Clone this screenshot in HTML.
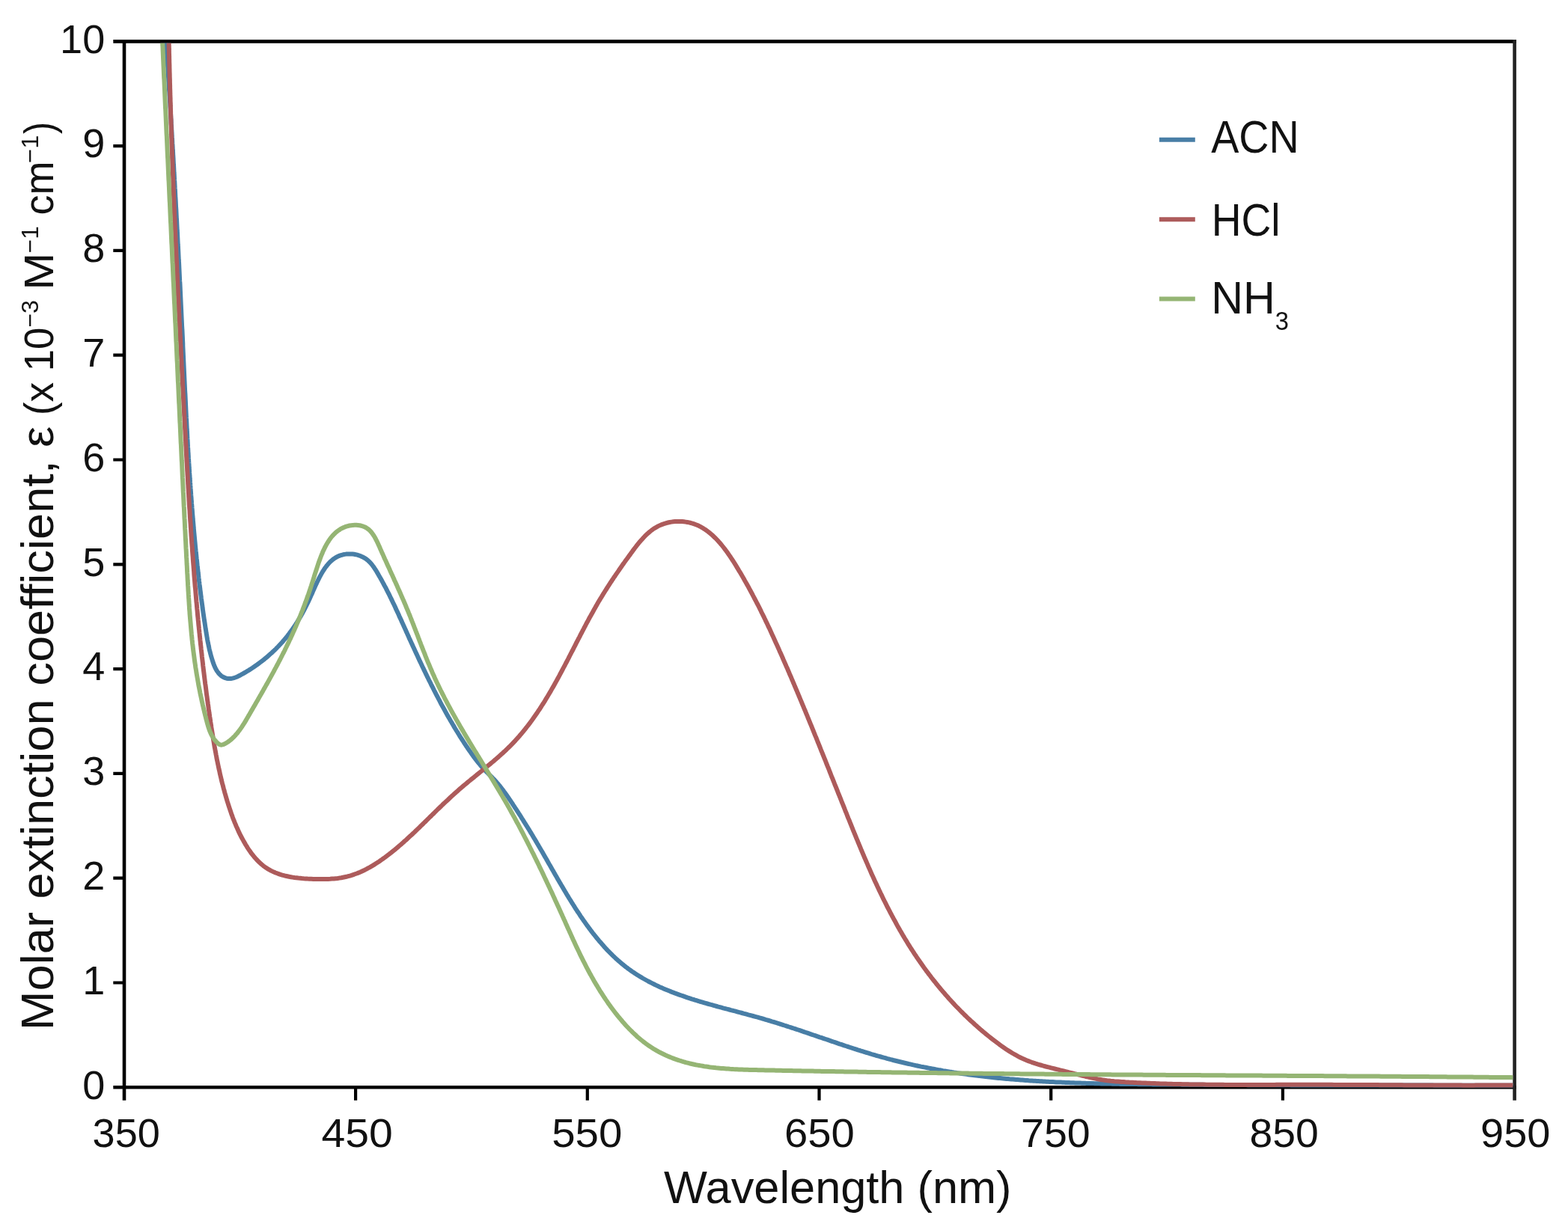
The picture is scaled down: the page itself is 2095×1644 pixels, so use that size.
<!DOCTYPE html>
<html><head><meta charset="utf-8"><title>Molar extinction coefficient</title>
<style>html,body{margin:0;padding:0;background:#fff}svg{display:block}</style></head>
<body>
<svg xmlns="http://www.w3.org/2000/svg" width="2095" height="1644" viewBox="0 0 2095 1644">
<rect width="2095" height="1644" fill="#fff"/>
<g stroke="#000" stroke-width="4.6" fill="none" stroke-linecap="butt">
<path d="M151.3,55.4 H2025.8999999999999"/>
<path d="M166.0,53.1 V1470.7"/>
<path d="M151.3,1453.3 H2025.8999999999999"/>
<path d="M2023.6,53.1 V1470.7" stroke="#222"/>
<path d="M151.3,1313.5 H166.0 M151.3,1173.7 H166.0 M151.3,1033.9 H166.0 M151.3,894.1 H166.0 M151.3,754.3 H166.0 M151.3,614.5 H166.0 M151.3,474.7 H166.0 M151.3,334.9 H166.0 M151.3,195.1 H166.0 M475.1,1453.3 V1470.7 M784.8,1453.3 V1470.7 M1094.5,1453.3 V1470.7 M1404.2,1453.3 V1470.7 M1713.9,1453.3 V1470.7" stroke-width="4.2"/>
</g>
<clipPath id="c"><rect x="168.3" y="57.699999999999996" width="1853.0" height="1399.6"/></clipPath>
<g clip-path="url(#c)" fill="none" stroke-width="6.0" stroke-linejoin="round" stroke-linecap="round">
<path d="M221.5,47.9 L221.7,50.0 L221.8,52.2 L221.9,54.3 L222.1,56.5 L222.2,58.6 L222.4,60.8 L222.5,63.0 L222.6,65.1 L222.8,67.3 L222.9,69.4 L223.0,71.6 L223.2,73.7 L223.3,75.9 L223.4,78.0 L223.6,80.2 L223.7,82.3 L223.9,84.5 L224.0,86.6 L224.1,88.8 L224.3,90.9 L224.4,93.0 L224.5,95.2 L224.7,97.3 L224.8,99.5 L224.9,101.6 L225.1,103.8 L225.2,105.9 L225.3,108.1 L225.5,110.2 L225.6,112.4 L225.7,114.5 L225.9,116.7 L226.0,118.8 L226.1,121.0 L226.3,123.1 L226.4,125.3 L226.5,127.4 L226.7,129.5 L226.8,131.7 L226.9,133.8 L227.0,136.0 L227.2,138.1 L227.3,140.3 L227.4,142.4 L227.6,144.6 L227.7,146.7 L227.8,148.9 L227.9,151.0 L228.1,153.1 L228.2,155.3 L228.3,157.4 L228.5,159.6 L228.6,161.7 L228.7,163.9 L228.8,166.0 L229.0,168.2 L229.1,170.3 L229.2,172.4 L229.3,174.6 L229.5,176.7 L229.6,178.9 L229.7,181.0 L229.8,183.2 L230.0,185.3 L230.1,187.4 L230.2,189.6 L230.3,191.7 L230.5,193.9 L230.6,196.0 L230.7,198.2 L230.8,200.3 L231.0,202.4 L231.1,204.6 L231.2,206.7 L231.3,208.9 L231.5,211.0 L231.6,213.2 L231.7,215.3 L231.8,217.4 L231.9,219.6 L232.1,221.7 L232.2,223.9 L232.3,226.0 L232.4,228.1 L232.5,230.3 L232.7,232.4 L232.8,234.6 L232.9,236.7 L233.0,238.9 L233.1,241.0 L233.3,243.1 L233.4,245.3 L233.5,247.4 L233.6,249.6 L233.7,251.7 L233.9,253.8 L234.0,256.0 L234.1,258.1 L234.2,260.3 L234.3,262.4 L234.4,264.6 L234.6,266.7 L234.7,268.8 L234.8,271.0 L234.9,273.1 L235.0,275.3 L235.1,277.4 L235.3,279.5 L235.4,281.7 L235.5,283.8 L235.6,286.0 L235.7,288.1 L235.8,290.2 L235.9,292.4 L236.1,294.5 L236.2,296.7 L236.3,298.8 L236.4,301.0 L236.5,303.1 L236.6,305.2 L236.7,307.4 L236.9,309.5 L237.0,311.7 L237.1,313.8 L237.2,315.9 L237.3,318.1 L237.4,320.2 L237.5,322.4 L237.6,324.5 L237.7,326.6 L237.9,328.8 L238.0,330.9 L238.1,333.1 L238.2,335.2 L238.3,337.4 L238.4,339.5 L238.5,341.6 L238.6,343.8 L238.7,345.9 L238.8,348.1 L239.0,350.2 L239.1,352.4 L239.2,354.5 L239.3,356.6 L239.4,358.8 L239.5,360.9 L239.6,363.1 L239.7,365.2 L239.8,367.4 L239.9,369.5 L240.0,371.6 L240.1,373.8 L240.2,375.9 L240.4,378.1 L240.5,380.2 L240.6,382.4 L240.7,384.5 L240.8,386.6 L240.9,388.8 L241.0,390.9 L241.1,393.1 L241.2,395.2 L241.3,397.4 L241.4,399.5 L241.5,401.7 L241.6,403.8 L241.7,405.9 L241.8,408.1 L241.9,410.2 L242.0,412.4 L242.1,414.5 L242.2,416.7 L242.3,418.8 L242.4,421.0 L242.5,423.1 L242.6,425.3 L242.7,427.4 L242.8,429.5 L242.9,431.7 L243.0,433.8 L243.1,436.0 L243.2,438.1 L243.4,440.3 L243.5,442.4 L243.6,444.6 L243.7,446.7 L243.8,448.9 L243.9,451.0 L244.0,453.2 L244.1,455.3 L244.2,457.5 L244.3,459.6 L244.3,461.8 L244.4,463.9 L244.5,466.1 L244.6,468.2 L244.7,470.4 L244.8,472.5 L244.9,474.7 L245.0,476.8 L245.1,479.0 L245.2,481.1 L245.3,483.3 L245.4,485.4 L245.5,487.6 L245.6,489.7 L245.7,491.9 L245.8,494.0 L245.9,496.2 L246.0,498.3 L246.1,500.5 L246.2,502.6 L246.3,504.8 L246.4,506.9 L246.5,509.1 L246.6,511.2 L246.7,513.4 L246.8,515.5 L246.9,517.7 L247.0,519.8 L247.1,522.0 L247.2,524.1 L247.4,526.3 L247.5,528.4 L247.6,530.6 L247.7,532.7 L247.8,534.9 L247.9,537.0 L248.0,539.2 L248.1,541.3 L248.2,543.5 L248.3,545.6 L248.4,547.8 L248.5,549.9 L248.6,552.1 L248.7,554.2 L248.8,556.4 L248.9,558.5 L249.1,560.7 L249.2,562.8 L249.3,565.0 L249.4,567.1 L249.5,569.3 L249.6,571.4 L249.7,573.6 L249.9,575.7 L250.0,577.9 L250.1,580.0 L250.2,582.2 L250.3,584.3 L250.4,586.5 L250.6,588.6 L250.7,590.8 L250.8,592.9 L250.9,595.1 L251.0,597.2 L251.2,599.4 L251.3,601.5 L251.4,603.7 L251.5,605.8 L251.7,607.9 L251.8,610.1 L251.9,612.2 L252.1,614.4 L252.2,616.5 L252.3,618.7 L252.5,620.8 L252.6,623.0 L252.7,625.1 L252.9,627.3 L253.0,629.4 L253.1,631.5 L253.3,633.7 L253.4,635.8 L253.6,638.0 L253.7,640.1 L253.9,642.3 L254.0,644.4 L254.2,646.6 L254.3,648.7 L254.5,650.8 L254.6,653.0 L254.8,655.1 L254.9,657.3 L255.1,659.4 L255.2,661.5 L255.4,663.7 L255.5,665.8 L255.7,668.0 L255.9,670.1 L256.0,672.2 L256.2,674.4 L256.4,676.5 L256.5,678.7 L256.7,680.8 L256.9,682.9 L257.0,685.1 L257.2,687.2 L257.4,689.4 L257.6,691.5 L257.7,693.6 L257.9,695.8 L258.1,697.9 L258.3,700.0 L258.5,702.2 L258.6,704.3 L258.8,706.4 L259.0,708.6 L259.2,710.7 L259.4,712.8 L259.6,715.0 L259.8,717.1 L260.0,719.2 L260.2,721.4 L260.4,723.5 L260.6,725.6 L260.8,727.7 L261.0,729.9 L261.2,732.0 L261.4,734.1 L261.6,736.3 L261.9,738.4 L262.1,740.5 L262.3,742.6 L262.5,744.8 L262.7,746.9 L263.0,749.0 L263.2,751.1 L263.4,753.3 L263.6,755.4 L263.9,757.5 L264.1,759.6 L264.3,761.7 L264.6,763.9 L264.8,766.0 L265.1,768.1 L265.3,770.2 L265.5,772.3 L265.8,774.5 L266.0,776.6 L266.3,778.7 L266.5,780.8 L266.8,782.9 L267.1,785.0 L267.3,787.2 L267.6,789.3 L267.9,791.4 L268.1,793.5 L268.4,795.6 L268.7,797.7 L268.9,799.8 L269.2,801.9 L269.5,804.0 L269.8,806.2 L270.1,808.3 L270.4,810.4 L270.6,812.5 L270.9,814.6 L271.2,816.7 L271.5,818.8 L271.8,820.9 L272.1,823.0 L272.4,825.1 L272.7,827.2 L273.0,829.3 L273.4,831.4 L273.7,833.5 L274.0,835.6 L274.3,837.7 L274.6,839.8 L275.0,841.9 L275.3,844.0 L275.6,846.1 L276.0,848.2 L276.3,850.3 L276.7,852.4 L277.0,854.5 L277.4,856.6 L277.8,858.8 L278.3,860.9 L278.7,863.0 L279.2,865.2 L279.6,867.3 L280.1,869.5 L280.7,871.6 L281.2,873.8 L281.8,876.0 L282.4,878.2 L283.1,880.4 L283.8,882.7 L284.5,884.9 L285.3,887.1 L286.1,889.3 L287.0,891.4 L288.0,893.5 L289.1,895.4 L290.2,897.3 L291.5,899.0 L292.8,900.6 L294.3,902.1 L295.8,903.4 L297.5,904.5 L299.2,905.4 L301.0,906.1 L302.8,906.7 L304.7,907.0 L306.6,907.1 L308.5,907.0 L310.5,906.6 L312.5,906.1 L314.4,905.5 L316.4,904.7 L318.4,903.8 L320.4,902.8 L322.4,901.7 L324.3,900.6 L326.3,899.5 L328.2,898.4 L330.1,897.2 L332.0,896.1 L333.9,894.9 L335.7,893.7 L337.6,892.5 L339.4,891.3 L341.2,890.0 L343.0,888.8 L344.7,887.5 L346.5,886.2 L348.2,884.9 L349.9,883.6 L351.6,882.3 L353.3,881.0 L354.9,879.6 L356.5,878.3 L358.2,876.9 L359.7,875.5 L361.3,874.1 L362.9,872.7 L364.4,871.3 L365.9,869.9 L367.4,868.5 L368.9,867.0 L370.3,865.5 L371.8,864.0 L373.2,862.5 L374.6,861.0 L376.0,859.5 L377.4,858.0 L378.7,856.4 L380.0,854.9 L381.4,853.3 L382.7,851.7 L384.0,850.1 L385.2,848.4 L386.5,846.8 L387.7,845.1 L389.0,843.4 L390.2,841.8 L391.4,840.0 L392.6,838.3 L393.7,836.6 L394.9,834.8 L396.1,833.0 L397.2,831.2 L398.3,829.4 L399.4,827.6 L400.5,825.7 L401.6,823.9 L402.7,822.0 L403.8,820.1 L404.8,818.1 L405.9,816.2 L406.9,814.2 L407.9,812.2 L408.9,810.2 L409.9,808.2 L410.9,806.2 L411.9,804.1 L412.9,802.0 L413.9,799.9 L414.8,797.8 L415.8,795.6 L416.8,793.5 L417.7,791.3 L418.7,789.1 L419.6,787.0 L420.6,784.8 L421.6,782.6 L422.6,780.5 L423.5,778.4 L424.6,776.3 L425.6,774.2 L426.6,772.1 L427.7,770.1 L428.8,768.1 L429.9,766.1 L431.0,764.2 L432.2,762.3 L433.4,760.5 L434.6,758.7 L435.9,757.0 L437.2,755.4 L438.5,753.8 L439.9,752.3 L441.3,750.8 L442.8,749.5 L444.3,748.2 L445.9,747.0 L447.5,745.9 L449.2,744.9 L450.9,743.9 L452.7,743.1 L454.6,742.4 L456.5,741.8 L458.4,741.3 L460.5,740.9 L462.5,740.6 L464.6,740.4 L466.7,740.4 L468.9,740.4 L471.0,740.6 L473.1,740.8 L475.2,741.2 L477.3,741.7 L479.4,742.3 L481.4,743.0 L483.4,743.9 L485.3,744.8 L487.2,745.9 L489.0,747.0 L490.7,748.3 L492.3,749.7 L493.9,751.2 L495.3,752.8 L496.8,754.5 L498.1,756.2 L499.4,758.0 L500.6,759.8 L501.9,761.7 L503.0,763.6 L504.2,765.6 L505.3,767.5 L506.4,769.4 L507.5,771.4 L508.6,773.3 L509.7,775.2 L510.7,777.1 L511.8,779.1 L512.8,781.0 L513.8,782.9 L514.9,784.8 L515.9,786.7 L516.8,788.7 L517.8,790.6 L518.8,792.5 L519.8,794.4 L520.7,796.3 L521.6,798.2 L522.6,800.2 L523.5,802.1 L524.4,804.0 L525.3,805.9 L526.3,807.8 L527.2,809.7 L528.1,811.6 L528.9,813.6 L529.8,815.5 L530.7,817.4 L531.6,819.3 L532.5,821.2 L533.3,823.2 L534.2,825.1 L535.1,827.0 L536.0,828.9 L536.8,830.9 L537.7,832.8 L538.6,834.7 L539.4,836.6 L540.3,838.6 L541.2,840.5 L542.1,842.4 L542.9,844.4 L543.8,846.3 L544.7,848.3 L545.6,850.2 L546.4,852.2 L547.3,854.1 L548.2,856.1 L549.1,858.0 L550.0,860.0 L550.9,861.9 L551.8,863.9 L552.7,865.8 L553.6,867.8 L554.5,869.7 L555.4,871.7 L556.3,873.6 L557.2,875.6 L558.1,877.5 L559.0,879.5 L559.9,881.4 L560.8,883.4 L561.8,885.4 L562.7,887.3 L563.6,889.3 L564.5,891.2 L565.5,893.2 L566.4,895.1 L567.4,897.1 L568.3,899.0 L569.2,901.0 L570.2,902.9 L571.1,904.9 L572.1,906.8 L573.0,908.8 L574.0,910.7 L575.0,912.6 L575.9,914.6 L576.9,916.5 L577.9,918.4 L578.9,920.4 L579.8,922.3 L580.8,924.2 L581.8,926.2 L582.8,928.1 L583.8,930.0 L584.8,931.9 L585.8,933.8 L586.8,935.7 L587.8,937.6 L588.8,939.6 L589.8,941.5 L590.9,943.4 L591.9,945.2 L592.9,947.1 L594.0,949.0 L595.0,950.9 L596.0,952.8 L597.1,954.7 L598.1,956.5 L599.2,958.4 L600.3,960.3 L601.3,962.1 L602.4,964.0 L603.5,965.8 L604.6,967.7 L605.7,969.5 L606.7,971.4 L607.8,973.2 L608.9,975.0 L610.0,976.8 L611.2,978.6 L612.3,980.5 L613.4,982.3 L614.5,984.1 L615.6,985.8 L616.8,987.6 L617.9,989.4 L619.1,991.2 L620.2,993.0 L621.4,994.7 L622.5,996.5 L623.7,998.2 L624.9,1000.0 L626.1,1001.7 L627.3,1003.4 L628.5,1005.1 L629.7,1006.9 L630.9,1008.6 L632.1,1010.2 L633.3,1011.9 L634.6,1013.6 L635.8,1015.2 L637.1,1016.9 L638.4,1018.5 L639.7,1020.1 L641.0,1021.7 L642.3,1023.3 L643.7,1024.9 L645.1,1026.4 L646.4,1027.9 L647.9,1029.4 L649.3,1030.9 L650.7,1032.4 L652.2,1033.8 L653.7,1035.3 L655.1,1036.8 L656.6,1038.2 L658.1,1039.7 L659.5,1041.2 L661.0,1042.7 L662.4,1044.3 L663.8,1045.9 L665.2,1047.5 L666.6,1049.2 L668.0,1050.8 L669.3,1052.5 L670.6,1054.3 L672.0,1056.0 L673.3,1057.8 L674.6,1059.5 L675.8,1061.3 L677.1,1063.1 L678.4,1064.9 L679.6,1066.7 L680.8,1068.5 L682.1,1070.3 L683.3,1072.1 L684.5,1073.9 L685.7,1075.8 L686.9,1077.6 L688.0,1079.3 L689.2,1081.1 L690.4,1082.9 L691.5,1084.7 L692.7,1086.5 L693.8,1088.3 L695.0,1090.0 L696.1,1091.8 L697.2,1093.6 L698.3,1095.3 L699.4,1097.1 L700.5,1098.9 L701.6,1100.6 L702.7,1102.4 L703.8,1104.2 L704.9,1105.9 L706.0,1107.7 L707.1,1109.4 L708.2,1111.2 L709.2,1113.0 L710.3,1114.7 L711.4,1116.5 L712.4,1118.3 L713.5,1120.1 L714.6,1121.8 L715.6,1123.6 L716.7,1125.4 L717.7,1127.2 L718.8,1129.0 L719.8,1130.8 L720.9,1132.6 L721.9,1134.4 L723.0,1136.2 L724.1,1138.0 L725.1,1139.8 L726.2,1141.7 L727.2,1143.5 L728.3,1145.4 L729.4,1147.2 L730.4,1149.1 L731.5,1150.9 L732.5,1152.8 L733.6,1154.7 L734.7,1156.5 L735.8,1158.4 L736.8,1160.3 L737.9,1162.2 L739.0,1164.1 L740.1,1166.0 L741.1,1167.8 L742.2,1169.7 L743.3,1171.6 L744.4,1173.5 L745.5,1175.4 L746.6,1177.3 L747.7,1179.2 L748.8,1181.1 L749.9,1183.0 L751.1,1184.9 L752.2,1186.8 L753.3,1188.7 L754.4,1190.6 L755.6,1192.5 L756.7,1194.4 L757.8,1196.3 L759.0,1198.2 L760.1,1200.1 L761.3,1202.0 L762.5,1203.9 L763.6,1205.7 L764.8,1207.6 L766.0,1209.5 L767.2,1211.4 L768.3,1213.2 L769.5,1215.1 L770.7,1216.9 L771.9,1218.8 L773.2,1220.6 L774.4,1222.4 L775.6,1224.3 L776.8,1226.1 L778.1,1227.9 L779.3,1229.7 L780.6,1231.5 L781.9,1233.3 L783.1,1235.1 L784.4,1236.9 L785.7,1238.6 L787.0,1240.4 L788.3,1242.1 L789.6,1243.9 L790.9,1245.6 L792.2,1247.3 L793.6,1249.0 L794.9,1250.7 L796.3,1252.4 L797.6,1254.1 L799.0,1255.7 L800.4,1257.4 L801.8,1259.0 L803.2,1260.6 L804.6,1262.2 L806.0,1263.8 L807.4,1265.4 L808.8,1267.0 L810.3,1268.6 L811.7,1270.1 L813.2,1271.6 L814.7,1273.1 L816.2,1274.6 L817.7,1276.1 L819.2,1277.6 L820.7,1279.0 L822.2,1280.5 L823.8,1281.9 L825.3,1283.3 L826.9,1284.7 L828.5,1286.0 L830.0,1287.4 L831.6,1288.7 L833.3,1290.0 L834.9,1291.3 L836.5,1292.6 L838.2,1293.8 L839.8,1295.1 L841.5,1296.3 L843.2,1297.5 L844.9,1298.7 L846.6,1299.8 L848.3,1301.0 L850.0,1302.1 L851.8,1303.2 L853.5,1304.3 L855.3,1305.4 L857.0,1306.4 L858.8,1307.5 L860.6,1308.5 L862.4,1309.5 L864.2,1310.5 L866.0,1311.5 L867.9,1312.5 L869.7,1313.4 L871.6,1314.4 L873.4,1315.3 L875.3,1316.2 L877.2,1317.1 L879.1,1318.0 L880.9,1318.9 L882.8,1319.7 L884.8,1320.6 L886.7,1321.4 L888.6,1322.2 L890.5,1323.0 L892.5,1323.8 L894.4,1324.6 L896.4,1325.4 L898.3,1326.2 L900.3,1326.9 L902.3,1327.7 L904.3,1328.4 L906.3,1329.1 L908.3,1329.8 L910.3,1330.5 L912.3,1331.2 L914.3,1331.9 L916.3,1332.6 L918.3,1333.3 L920.3,1334.0 L922.4,1334.6 L924.4,1335.3 L926.5,1335.9 L928.5,1336.6 L930.6,1337.2 L932.6,1337.8 L934.7,1338.5 L936.8,1339.1 L938.8,1339.7 L940.9,1340.3 L943.0,1340.9 L945.1,1341.5 L947.1,1342.1 L949.2,1342.7 L951.3,1343.2 L953.4,1343.8 L955.5,1344.4 L957.6,1345.0 L959.7,1345.6 L961.8,1346.1 L963.9,1346.7 L966.0,1347.3 L968.1,1347.8 L970.2,1348.4 L972.3,1348.9 L974.5,1349.5 L976.6,1350.1 L978.7,1350.6 L980.8,1351.2 L982.9,1351.7 L985.0,1352.3 L987.1,1352.9 L989.3,1353.4 L991.4,1354.0 L993.5,1354.6 L995.6,1355.1 L997.7,1355.7 L999.8,1356.3 L1001.9,1356.8 L1004.0,1357.4 L1006.2,1358.0 L1008.3,1358.6 L1010.4,1359.2 L1012.5,1359.7 L1014.6,1360.3 L1016.7,1360.9 L1018.8,1361.5 L1020.9,1362.1 L1023.0,1362.8 L1025.1,1363.4 L1027.2,1364.0 L1029.3,1364.6 L1031.3,1365.3 L1033.4,1365.9 L1035.5,1366.5 L1037.6,1367.2 L1039.7,1367.8 L1041.7,1368.5 L1043.8,1369.1 L1045.9,1369.8 L1048.0,1370.5 L1050.0,1371.1 L1052.1,1371.8 L1054.2,1372.5 L1056.2,1373.1 L1058.3,1373.8 L1060.4,1374.5 L1062.4,1375.2 L1064.5,1375.9 L1066.5,1376.5 L1068.6,1377.2 L1070.6,1377.9 L1072.7,1378.6 L1074.7,1379.3 L1076.8,1380.0 L1078.8,1380.7 L1080.9,1381.4 L1082.9,1382.1 L1085.0,1382.8 L1087.0,1383.5 L1089.1,1384.2 L1091.1,1384.9 L1093.2,1385.6 L1095.2,1386.3 L1097.3,1386.9 L1099.3,1387.6 L1101.3,1388.3 L1103.4,1389.0 L1105.4,1389.7 L1107.5,1390.4 L1109.5,1391.1 L1111.5,1391.8 L1113.6,1392.5 L1115.6,1393.2 L1117.7,1393.9 L1119.7,1394.6 L1121.7,1395.3 L1123.8,1395.9 L1125.8,1396.6 L1127.8,1397.3 L1129.9,1398.0 L1131.9,1398.6 L1134.0,1399.3 L1136.0,1400.0 L1138.0,1400.7 L1140.1,1401.3 L1142.1,1402.0 L1144.2,1402.6 L1146.2,1403.3 L1148.2,1403.9 L1150.3,1404.6 L1152.3,1405.2 L1154.4,1405.8 L1156.4,1406.5 L1158.5,1407.1 L1160.5,1407.7 L1162.5,1408.3 L1164.6,1409.0 L1166.6,1409.6 L1168.7,1410.2 L1170.7,1410.8 L1172.8,1411.4 L1174.8,1411.9 L1176.9,1412.5 L1178.9,1413.1 L1181.0,1413.7 L1183.1,1414.2 L1185.1,1414.8 L1187.2,1415.3 L1189.2,1415.9 L1191.3,1416.4 L1193.4,1417.0 L1195.4,1417.5 L1197.5,1418.0 L1199.6,1418.5 L1201.6,1419.0 L1203.7,1419.5 L1205.8,1420.0 L1207.8,1420.5 L1209.9,1421.0 L1212.0,1421.5 L1214.1,1422.0 L1216.1,1422.4 L1218.2,1422.9 L1220.3,1423.4 L1222.4,1423.8 L1224.5,1424.3 L1226.5,1424.7 L1228.6,1425.1 L1230.7,1425.6 L1232.8,1426.0 L1234.9,1426.4 L1237.0,1426.8 L1239.1,1427.2 L1241.1,1427.6 L1243.2,1428.0 L1245.3,1428.4 L1247.4,1428.8 L1249.5,1429.2 L1251.6,1429.6 L1253.7,1430.0 L1255.8,1430.3 L1257.9,1430.7 L1260.0,1431.1 L1262.1,1431.4 L1264.2,1431.8 L1266.3,1432.1 L1268.4,1432.5 L1270.5,1432.8 L1272.6,1433.1 L1274.7,1433.5 L1276.8,1433.8 L1278.9,1434.1 L1281.1,1434.4 L1283.2,1434.7 L1285.3,1435.0 L1287.4,1435.3 L1289.5,1435.6 L1291.6,1435.9 L1293.7,1436.2 L1295.8,1436.5 L1298.0,1436.8 L1300.1,1437.0 L1302.2,1437.3 L1304.3,1437.6 L1306.4,1437.8 L1308.5,1438.1 L1310.7,1438.3 L1312.8,1438.6 L1314.9,1438.8 L1317.0,1439.1 L1319.2,1439.3 L1321.3,1439.6 L1323.4,1439.8 L1325.5,1440.0 L1327.7,1440.2 L1329.8,1440.5 L1331.9,1440.7 L1334.0,1440.9 L1336.2,1441.1 L1338.3,1441.3 L1340.4,1441.5 L1342.6,1441.7 L1344.7,1441.9 L1346.8,1442.1 L1349.0,1442.3 L1351.1,1442.4 L1353.2,1442.6 L1355.4,1442.8 L1357.5,1443.0 L1359.6,1443.1 L1361.8,1443.3 L1363.9,1443.5 L1366.0,1443.6 L1368.2,1443.8 L1370.3,1444.0 L1372.5,1444.1 L1374.6,1444.3 L1376.7,1444.4 L1378.9,1444.5 L1381.0,1444.7 L1383.2,1444.8 L1385.3,1445.0 L1387.4,1445.1 L1389.6,1445.2 L1391.7,1445.3 L1393.9,1445.5 L1396.0,1445.6 L1398.2,1445.7 L1400.3,1445.8 L1402.5,1445.9 L1404.6,1446.0 L1406.8,1446.1 L1408.9,1446.2 L1411.0,1446.4 L1413.2,1446.5 L1415.3,1446.6 L1417.5,1446.6 L1419.6,1446.7 L1421.8,1446.8 L1423.9,1446.9 L1426.1,1447.0 L1428.2,1447.1 L1430.4,1447.2 L1432.5,1447.3 L1434.7,1447.3 L1436.8,1447.4 L1439.0,1447.5 L1441.2,1447.6 L1443.3,1447.6 L1445.5,1447.7 L1447.6,1447.8 L1449.8,1447.8 L1451.9,1447.9 L1454.1,1447.9 L1456.2,1448.0 L1458.4,1448.1 L1460.5,1448.1 L1462.7,1448.2 L1464.8,1448.2 L1467.0,1448.3 L1469.1,1448.3 L1471.3,1448.4 L1473.5,1448.4 L1475.6,1448.5 L1477.8,1448.5 L1479.9,1448.6 L1482.1,1448.6 L1484.2,1448.6 L1486.4,1448.7 L1488.5,1448.7 L1490.7,1448.8 L1492.9,1448.8 L1495.0,1448.8 L1497.2,1448.9 L1499.3,1448.9 L1501.5,1448.9 L1503.6,1449.0 L1505.8,1449.0 L1508.0,1449.0 L1510.1,1449.0 L1512.3,1449.1 L1514.4,1449.1 L1516.6,1449.1 L1518.7,1449.1 L1520.9,1449.2 L1523.0,1449.2 L1525.2,1449.2 L1527.4,1449.2 L1529.5,1449.3 L1531.7,1449.3 L1533.8,1449.3 L1536.0,1449.3 L1538.1,1449.3 L1540.3,1449.4 L1542.4,1449.4 L1544.6,1449.4 L1546.8,1449.4 L1548.9,1449.4 L1551.1,1449.4 L1553.2,1449.5 L1555.4,1449.5 L1557.5,1449.5 L1559.7,1449.5 L1561.8,1449.5 L1564.0,1449.5 L1566.1,1449.6 L1568.3,1449.6 L1570.4,1449.6 L1572.6,1449.6 L1574.7,1449.6 L1576.9,1449.6 L1579.1,1449.7 L1581.2,1449.7 L1583.4,1449.7 L1585.5,1449.7 L1587.7,1449.7 L1589.8,1449.7 L1592.0,1449.7 L1594.1,1449.8 L1596.3,1449.8 L1598.4,1449.8 L1600.6,1449.8 L1602.7,1449.8 L1604.9,1449.8 L1607.0,1449.8 L1609.2,1449.9 L1611.3,1449.9 L1613.5,1449.9 L1615.6,1449.9 L1617.8,1449.9 L1619.9,1449.9 L1622.1,1449.9 L1624.2,1449.9 L1626.4,1450.0 L1628.5,1450.0 L1630.7,1450.0 L1632.8,1450.0 L1635.0,1450.0 L1637.1,1450.0 L1639.3,1450.0 L1641.4,1450.0 L1643.6,1450.0 L1645.7,1450.1 L1647.9,1450.1 L1650.0,1450.1 L1652.1,1450.1 L1654.3,1450.1 L1656.4,1450.1 L1658.6,1450.1 L1660.7,1450.1 L1662.9,1450.1 L1665.0,1450.1 L1667.2,1450.2 L1669.3,1450.2 L1671.5,1450.2 L1673.6,1450.2 L1675.8,1450.2 L1677.9,1450.2 L1680.1,1450.2 L1682.2,1450.2 L1684.4,1450.2 L1686.5,1450.2 L1688.7,1450.2 L1690.8,1450.2 L1692.9,1450.3 L1695.1,1450.3 L1697.2,1450.3 L1699.4,1450.3 L1701.5,1450.3 L1703.7,1450.3 L1705.8,1450.3 L1708.0,1450.3 L1710.1,1450.3 L1712.3,1450.3 L1714.4,1450.3 L1716.6,1450.3 L1718.7,1450.3 L1720.8,1450.3 L1723.0,1450.3 L1725.1,1450.4 L1727.3,1450.4 L1729.4,1450.4 L1731.6,1450.4 L1733.7,1450.4 L1735.9,1450.4 L1738.0,1450.4 L1740.2,1450.4 L1742.3,1450.4 L1744.4,1450.4 L1746.6,1450.4 L1748.7,1450.4 L1750.9,1450.4 L1753.0,1450.4 L1755.2,1450.4 L1757.3,1450.4 L1759.5,1450.4 L1761.6,1450.4 L1763.8,1450.4 L1765.9,1450.5 L1768.0,1450.5 L1770.2,1450.5 L1772.3,1450.5 L1774.5,1450.5 L1776.6,1450.5 L1778.8,1450.5 L1780.9,1450.5 L1783.1,1450.5 L1785.2,1450.5 L1787.3,1450.5 L1789.5,1450.5 L1791.6,1450.5 L1793.8,1450.5 L1795.9,1450.5 L1798.1,1450.5 L1800.2,1450.5 L1802.4,1450.5 L1804.5,1450.5 L1806.7,1450.5 L1808.8,1450.5 L1810.9,1450.5 L1813.1,1450.5 L1815.2,1450.5 L1817.4,1450.5 L1819.5,1450.5 L1821.7,1450.5 L1823.8,1450.5 L1826.0,1450.6 L1828.1,1450.6 L1830.3,1450.6 L1832.4,1450.6 L1834.5,1450.6 L1836.7,1450.6 L1838.8,1450.6 L1841.0,1450.6 L1843.1,1450.6 L1845.3,1450.6 L1847.4,1450.6 L1849.6,1450.6 L1851.7,1450.6 L1853.9,1450.6 L1856.0,1450.6 L1858.2,1450.6 L1860.3,1450.6 L1862.4,1450.6 L1864.6,1450.6 L1866.7,1450.6 L1868.9,1450.6 L1871.0,1450.6 L1873.2,1450.6 L1875.3,1450.6 L1877.5,1450.6 L1879.6,1450.6 L1881.8,1450.6 L1883.9,1450.6 L1886.1,1450.6 L1888.2,1450.6 L1890.4,1450.6 L1892.5,1450.6 L1894.6,1450.6 L1896.8,1450.6 L1898.9,1450.6 L1901.1,1450.6 L1903.2,1450.6 L1905.4,1450.6 L1907.5,1450.6 L1909.7,1450.6 L1911.8,1450.6 L1914.0,1450.6 L1916.1,1450.7 L1918.3,1450.7 L1920.4,1450.7 L1922.6,1450.7 L1924.7,1450.7 L1926.9,1450.7 L1929.0,1450.7 L1931.2,1450.7 L1933.3,1450.7 L1935.5,1450.7 L1937.6,1450.7 L1939.8,1450.7 L1941.9,1450.7 L1944.1,1450.7 L1946.2,1450.7 L1948.4,1450.7 L1950.5,1450.7 L1952.7,1450.7 L1954.8,1450.7 L1957.0,1450.7 L1959.1,1450.7 L1961.3,1450.7 L1963.4,1450.7 L1965.6,1450.7 L1967.7,1450.7 L1969.9,1450.7 L1972.0,1450.7 L1974.2,1450.7 L1976.3,1450.7 L1978.5,1450.7 L1980.6,1450.7 L1982.8,1450.7 L1984.9,1450.7 L1987.1,1450.7 L1989.2,1450.7 L1991.4,1450.7 L1993.6,1450.8 L1995.7,1450.8 L1997.9,1450.8 L2000.0,1450.8 L2002.2,1450.8 L2004.3,1450.8 L2006.5,1450.8 L2008.6,1450.8 L2010.8,1450.8 L2012.9,1450.8 L2015.1,1450.8 L2017.3,1450.8 L2019.4,1450.8 L2021.6,1450.8 L2023.7,1450.8" stroke="#487ea6"/>
<path d="M225.5,47.9 L225.5,50.4 L225.6,52.8 L225.6,55.3 L225.7,57.8 L225.7,60.3 L225.8,62.7 L225.8,65.2 L225.9,67.7 L225.9,70.1 L226.0,72.6 L226.1,75.1 L226.1,77.5 L226.2,80.0 L226.2,82.5 L226.3,84.9 L226.4,87.4 L226.4,89.9 L226.5,92.3 L226.5,94.8 L226.6,97.3 L226.7,99.7 L226.7,102.2 L226.8,104.7 L226.9,107.1 L226.9,109.6 L227.0,112.1 L227.1,114.5 L227.1,117.0 L227.2,119.5 L227.3,121.9 L227.3,124.4 L227.4,126.9 L227.5,129.3 L227.6,131.8 L227.6,134.3 L227.7,136.7 L227.8,139.2 L227.8,141.7 L227.9,144.1 L228.0,146.6 L228.1,149.1 L228.1,151.5 L228.2,154.0 L228.3,156.5 L228.4,158.9 L228.5,161.4 L228.5,163.9 L228.6,166.3 L228.7,168.8 L228.8,171.3 L228.9,173.7 L228.9,176.2 L229.0,178.6 L229.1,181.1 L229.2,183.6 L229.3,186.0 L229.4,188.5 L229.4,191.0 L229.5,193.4 L229.6,195.9 L229.7,198.3 L229.8,200.8 L229.9,203.3 L230.0,205.7 L230.1,208.2 L230.1,210.7 L230.2,213.1 L230.3,215.6 L230.4,218.1 L230.5,220.5 L230.6,223.0 L230.7,225.4 L230.8,227.9 L230.9,230.4 L231.0,232.8 L231.1,235.3 L231.2,237.7 L231.3,240.2 L231.3,242.7 L231.4,245.1 L231.5,247.6 L231.6,250.1 L231.7,252.5 L231.8,255.0 L231.9,257.4 L232.0,259.9 L232.1,262.4 L232.2,264.8 L232.3,267.3 L232.4,269.7 L232.5,272.2 L232.6,274.7 L232.7,277.1 L232.8,279.6 L232.9,282.0 L233.0,284.5 L233.1,287.0 L233.2,289.4 L233.4,291.9 L233.5,294.4 L233.6,296.8 L233.7,299.3 L233.8,301.7 L233.9,304.2 L234.0,306.7 L234.1,309.1 L234.2,311.6 L234.3,314.0 L234.4,316.5 L234.5,319.0 L234.6,321.4 L234.7,323.9 L234.9,326.3 L235.0,328.8 L235.1,331.3 L235.2,333.7 L235.3,336.2 L235.4,338.6 L235.5,341.1 L235.6,343.6 L235.7,346.0 L235.9,348.5 L236.0,350.9 L236.1,353.4 L236.2,355.9 L236.3,358.3 L236.4,360.8 L236.5,363.2 L236.7,365.7 L236.8,368.2 L236.9,370.6 L237.0,373.1 L237.1,375.5 L237.2,378.0 L237.3,380.5 L237.5,382.9 L237.6,385.4 L237.7,387.8 L237.8,390.3 L237.9,392.8 L238.1,395.2 L238.2,397.7 L238.3,400.1 L238.4,402.6 L238.5,405.1 L238.7,407.5 L238.8,410.0 L238.9,412.4 L239.0,414.9 L239.1,417.4 L239.3,419.8 L239.4,422.3 L239.5,424.7 L239.6,427.2 L239.7,429.7 L239.9,432.1 L240.0,434.6 L240.1,437.0 L240.2,439.5 L240.4,442.0 L240.5,444.4 L240.6,446.9 L240.7,449.3 L240.9,451.8 L241.0,454.3 L241.1,456.7 L241.2,459.2 L241.4,461.6 L241.5,464.1 L241.6,466.6 L241.7,469.0 L241.9,471.5 L242.0,473.9 L242.1,476.4 L242.2,478.9 L242.4,481.3 L242.5,483.8 L242.6,486.2 L242.7,488.7 L242.9,491.2 L243.0,493.6 L243.1,496.1 L243.2,498.6 L243.4,501.0 L243.5,503.5 L243.6,505.9 L243.8,508.4 L243.9,510.9 L244.0,513.3 L244.1,515.8 L244.3,518.2 L244.4,520.7 L244.5,523.2 L244.7,525.6 L244.8,528.1 L244.9,530.6 L245.1,533.0 L245.2,535.5 L245.3,537.9 L245.4,540.4 L245.6,542.9 L245.7,545.3 L245.8,547.8 L246.0,550.3 L246.1,552.7 L246.2,555.2 L246.4,557.6 L246.5,560.1 L246.6,562.6 L246.7,565.0 L246.9,567.5 L247.0,570.0 L247.1,572.4 L247.3,574.9 L247.4,577.4 L247.5,579.8 L247.7,582.3 L247.8,584.7 L247.9,587.2 L248.1,589.7 L248.2,592.1 L248.3,594.6 L248.5,597.1 L248.6,599.5 L248.7,602.0 L248.9,604.5 L249.0,606.9 L249.1,609.4 L249.3,611.9 L249.4,614.3 L249.5,616.8 L249.7,619.2 L249.8,621.7 L250.0,624.2 L250.1,626.6 L250.2,629.1 L250.4,631.6 L250.5,634.0 L250.7,636.5 L250.8,639.0 L250.9,641.4 L251.1,643.9 L251.2,646.4 L251.4,648.8 L251.5,651.3 L251.7,653.7 L251.8,656.2 L251.9,658.7 L252.1,661.1 L252.2,663.6 L252.4,666.1 L252.5,668.5 L252.7,671.0 L252.8,673.5 L253.0,675.9 L253.1,678.4 L253.3,680.8 L253.5,683.3 L253.6,685.8 L253.8,688.2 L253.9,690.7 L254.1,693.2 L254.2,695.6 L254.4,698.1 L254.6,700.5 L254.7,703.0 L254.9,705.5 L255.1,707.9 L255.2,710.4 L255.4,712.9 L255.5,715.3 L255.7,717.8 L255.9,720.2 L256.1,722.7 L256.2,725.2 L256.4,727.6 L256.6,730.1 L256.8,732.5 L256.9,735.0 L257.1,737.5 L257.3,739.9 L257.5,742.4 L257.7,744.8 L257.8,747.3 L258.0,749.8 L258.2,752.2 L258.4,754.7 L258.6,757.1 L258.8,759.6 L259.0,762.1 L259.2,764.5 L259.3,767.0 L259.5,769.4 L259.7,771.9 L259.9,774.3 L260.1,776.8 L260.3,779.3 L260.5,781.7 L260.7,784.2 L261.0,786.6 L261.2,789.1 L261.4,791.5 L261.6,794.0 L261.8,796.4 L262.0,798.9 L262.2,801.3 L262.4,803.8 L262.7,806.3 L262.9,808.7 L263.1,811.2 L263.3,813.6 L263.6,816.1 L263.8,818.5 L264.0,821.0 L264.2,823.4 L264.5,825.9 L264.7,828.3 L265.0,830.8 L265.2,833.2 L265.4,835.7 L265.7,838.1 L265.9,840.6 L266.2,843.0 L266.4,845.5 L266.7,847.9 L266.9,850.4 L267.2,852.8 L267.4,855.3 L267.7,857.7 L267.9,860.2 L268.2,862.6 L268.5,865.0 L268.7,867.5 L269.0,869.9 L269.3,872.4 L269.6,874.8 L269.8,877.3 L270.1,879.7 L270.4,882.2 L270.7,884.6 L271.0,887.0 L271.2,889.5 L271.5,891.9 L271.8,894.4 L272.1,896.8 L272.4,899.2 L272.7,901.7 L273.0,904.1 L273.3,906.6 L273.6,909.0 L273.9,911.4 L274.2,913.9 L274.6,916.3 L274.9,918.7 L275.2,921.2 L275.5,923.6 L275.8,926.1 L276.1,928.5 L276.5,930.9 L276.8,933.4 L277.1,935.8 L277.5,938.2 L277.8,940.7 L278.2,943.1 L278.5,945.5 L278.8,947.9 L279.2,950.4 L279.5,952.8 L279.9,955.2 L280.2,957.7 L280.6,960.1 L281.0,962.5 L281.3,964.9 L281.7,967.4 L282.1,969.8 L282.4,972.2 L282.8,974.7 L283.2,977.1 L283.6,979.5 L284.0,981.9 L284.4,984.3 L284.8,986.8 L285.2,989.2 L285.6,991.6 L286.0,994.0 L286.4,996.5 L286.8,998.9 L287.3,1001.3 L287.7,1003.7 L288.2,1006.1 L288.6,1008.5 L289.1,1011.0 L289.5,1013.4 L290.0,1015.8 L290.5,1018.2 L291.0,1020.6 L291.5,1023.0 L292.0,1025.4 L292.5,1027.8 L293.1,1030.2 L293.6,1032.7 L294.1,1035.1 L294.7,1037.5 L295.3,1039.9 L295.8,1042.3 L296.4,1044.7 L297.0,1047.1 L297.7,1049.5 L298.3,1051.9 L298.9,1054.3 L299.6,1056.7 L300.2,1059.1 L300.9,1061.5 L301.6,1063.9 L302.3,1066.3 L303.0,1068.7 L303.7,1071.1 L304.5,1073.5 L305.2,1075.8 L306.0,1078.2 L306.8,1080.6 L307.6,1083.0 L308.4,1085.4 L309.2,1087.8 L310.1,1090.1 L310.9,1092.5 L311.8,1094.9 L312.8,1097.2 L313.7,1099.6 L314.7,1101.9 L315.6,1104.2 L316.7,1106.5 L317.7,1108.8 L318.7,1111.1 L319.8,1113.4 L320.9,1115.7 L322.1,1118.0 L323.3,1120.2 L324.5,1122.4 L325.7,1124.6 L327.0,1126.8 L328.2,1129.0 L329.6,1131.2 L330.9,1133.3 L332.3,1135.4 L333.8,1137.5 L335.2,1139.6 L336.7,1141.6 L338.3,1143.5 L339.8,1145.5 L341.4,1147.3 L343.1,1149.1 L344.8,1150.9 L346.5,1152.6 L348.3,1154.2 L350.1,1155.8 L351.9,1157.3 L353.8,1158.7 L355.8,1160.0 L357.7,1161.3 L359.7,1162.4 L361.8,1163.6 L363.9,1164.6 L366.0,1165.6 L368.1,1166.5 L370.3,1167.3 L372.5,1168.1 L374.8,1168.9 L377.0,1169.6 L379.3,1170.2 L381.7,1170.8 L384.0,1171.3 L386.4,1171.8 L388.7,1172.2 L391.1,1172.6 L393.6,1173.0 L396.0,1173.3 L398.5,1173.6 L400.9,1173.8 L403.4,1174.1 L405.9,1174.3 L408.4,1174.4 L410.9,1174.6 L413.4,1174.7 L415.9,1174.8 L418.5,1174.9 L421.0,1174.9 L423.5,1175.0 L426.1,1175.0 L428.6,1175.0 L431.1,1175.0 L433.6,1175.0 L436.1,1174.9 L438.6,1174.9 L441.1,1174.8 L443.6,1174.6 L446.1,1174.4 L448.6,1174.2 L451.0,1174.0 L453.4,1173.6 L455.8,1173.3 L458.2,1172.8 L460.6,1172.3 L462.9,1171.8 L465.2,1171.2 L467.5,1170.6 L469.8,1169.9 L472.1,1169.1 L474.3,1168.3 L476.6,1167.5 L478.8,1166.6 L481.0,1165.7 L483.2,1164.7 L485.3,1163.7 L487.5,1162.7 L489.6,1161.6 L491.7,1160.4 L493.8,1159.3 L495.9,1158.1 L498.0,1156.9 L500.1,1155.6 L502.1,1154.3 L504.1,1153.0 L506.2,1151.7 L508.2,1150.3 L510.2,1148.9 L512.1,1147.5 L514.1,1146.1 L516.1,1144.6 L518.0,1143.2 L520.0,1141.7 L521.9,1140.2 L523.8,1138.6 L525.7,1137.1 L527.6,1135.6 L529.5,1134.0 L531.4,1132.4 L533.2,1130.8 L535.1,1129.2 L537.0,1127.6 L538.8,1126.0 L540.6,1124.3 L542.5,1122.7 L544.3,1121.0 L546.1,1119.3 L548.0,1117.6 L549.8,1116.0 L551.6,1114.3 L553.4,1112.6 L555.2,1110.8 L557.0,1109.1 L558.8,1107.4 L560.6,1105.7 L562.3,1103.9 L564.1,1102.2 L565.9,1100.5 L567.7,1098.7 L569.5,1097.0 L571.3,1095.2 L573.0,1093.5 L574.8,1091.7 L576.6,1090.0 L578.4,1088.2 L580.2,1086.5 L582.0,1084.7 L583.7,1083.0 L585.5,1081.2 L587.3,1079.5 L589.1,1077.8 L590.9,1076.0 L592.7,1074.3 L594.5,1072.6 L596.3,1070.9 L598.2,1069.2 L600.0,1067.5 L601.8,1065.8 L603.6,1064.1 L605.5,1062.4 L607.3,1060.7 L609.2,1059.1 L611.1,1057.4 L612.9,1055.8 L614.8,1054.1 L616.7,1052.5 L618.6,1050.9 L620.5,1049.3 L622.4,1047.7 L624.3,1046.1 L626.2,1044.5 L628.1,1043.0 L630.0,1041.4 L632.0,1039.8 L633.9,1038.3 L635.8,1036.7 L637.7,1035.1 L639.6,1033.6 L641.6,1032.0 L643.5,1030.5 L645.4,1028.9 L647.3,1027.4 L649.2,1025.8 L651.1,1024.2 L653.0,1022.7 L654.9,1021.1 L656.8,1019.5 L658.7,1018.0 L660.5,1016.4 L662.4,1014.8 L664.2,1013.2 L666.1,1011.6 L667.9,1009.9 L669.7,1008.3 L671.5,1006.7 L673.3,1005.0 L675.1,1003.4 L676.9,1001.7 L678.6,1000.0 L680.4,998.3 L682.1,996.6 L683.8,994.9 L685.5,993.1 L687.1,991.4 L688.8,989.6 L690.4,987.8 L692.0,986.0 L693.6,984.2 L695.2,982.3 L696.8,980.5 L698.3,978.6 L699.9,976.7 L701.4,974.8 L702.9,972.9 L704.4,971.0 L705.9,969.1 L707.4,967.2 L708.8,965.2 L710.3,963.2 L711.7,961.3 L713.1,959.3 L714.5,957.3 L715.9,955.3 L717.3,953.3 L718.7,951.2 L720.0,949.2 L721.4,947.2 L722.7,945.1 L724.0,943.0 L725.3,941.0 L726.7,938.9 L728.0,936.8 L729.2,934.7 L730.5,932.6 L731.8,930.5 L733.1,928.3 L734.3,926.2 L735.6,924.1 L736.8,921.9 L738.0,919.8 L739.3,917.6 L740.5,915.5 L741.7,913.3 L742.9,911.1 L744.1,909.0 L745.3,906.8 L746.5,904.6 L747.7,902.4 L748.8,900.2 L750.0,898.0 L751.2,895.8 L752.3,893.6 L753.5,891.4 L754.7,889.2 L755.8,887.0 L757.0,884.8 L758.1,882.6 L759.3,880.4 L760.4,878.2 L761.5,876.0 L762.7,873.7 L763.8,871.5 L765.0,869.3 L766.1,867.1 L767.2,864.9 L768.4,862.7 L769.5,860.4 L770.6,858.2 L771.8,856.0 L772.9,853.8 L774.1,851.6 L775.2,849.4 L776.3,847.2 L777.5,845.0 L778.6,842.8 L779.8,840.6 L780.9,838.4 L782.1,836.2 L783.2,834.0 L784.4,831.8 L785.6,829.7 L786.7,827.5 L787.9,825.3 L789.1,823.2 L790.3,821.0 L791.5,818.9 L792.7,816.7 L793.9,814.6 L795.1,812.5 L796.3,810.3 L797.5,808.2 L798.7,806.1 L799.9,804.0 L801.2,801.9 L802.4,799.8 L803.7,797.8 L805.0,795.7 L806.2,793.6 L807.5,791.6 L808.8,789.5 L810.1,787.5 L811.4,785.4 L812.7,783.4 L814.0,781.3 L815.3,779.3 L816.7,777.3 L818.0,775.2 L819.4,773.2 L820.7,771.2 L822.1,769.2 L823.5,767.1 L824.9,765.1 L826.3,763.1 L827.7,761.0 L829.1,759.0 L830.5,757.0 L831.9,754.9 L833.4,752.9 L834.8,750.9 L836.3,748.8 L837.8,746.8 L839.3,744.7 L840.8,742.6 L842.3,740.6 L843.8,738.5 L845.3,736.4 L846.8,734.4 L848.4,732.3 L850.0,730.2 L851.6,728.2 L853.2,726.2 L854.8,724.2 L856.5,722.3 L858.2,720.4 L859.9,718.5 L861.6,716.7 L863.4,714.9 L865.2,713.2 L867.1,711.6 L869.0,710.0 L870.9,708.5 L872.9,707.1 L874.9,705.8 L877.0,704.6 L879.1,703.4 L881.2,702.4 L883.4,701.4 L885.7,700.6 L887.9,699.8 L890.2,699.1 L892.5,698.5 L894.8,698.0 L897.2,697.6 L899.5,697.3 L901.9,697.1 L904.3,696.9 L906.7,696.9 L909.0,696.9 L911.4,697.0 L913.8,697.3 L916.1,697.6 L918.5,698.0 L920.8,698.4 L923.1,699.0 L925.3,699.7 L927.6,700.4 L929.8,701.2 L931.9,702.1 L934.1,703.1 L936.2,704.2 L938.2,705.3 L940.2,706.6 L942.2,707.8 L944.2,709.2 L946.1,710.6 L948.0,712.1 L949.9,713.7 L951.7,715.3 L953.5,717.0 L955.3,718.7 L957.1,720.5 L958.8,722.3 L960.5,724.2 L962.2,726.1 L963.8,728.0 L965.4,730.0 L967.0,732.0 L968.6,734.1 L970.2,736.2 L971.7,738.3 L973.2,740.4 L974.7,742.6 L976.2,744.8 L977.6,747.0 L979.1,749.2 L980.5,751.4 L981.9,753.6 L983.3,755.9 L984.6,758.1 L986.0,760.4 L987.3,762.6 L988.7,764.8 L990.0,767.1 L991.3,769.3 L992.6,771.5 L993.9,773.8 L995.1,776.0 L996.4,778.2 L997.6,780.4 L998.9,782.6 L1000.1,784.8 L1001.3,787.1 L1002.5,789.3 L1003.7,791.5 L1004.9,793.7 L1006.0,795.9 L1007.2,798.1 L1008.3,800.3 L1009.5,802.5 L1010.6,804.6 L1011.7,806.8 L1012.9,809.0 L1014.0,811.2 L1015.1,813.4 L1016.2,815.6 L1017.2,817.8 L1018.3,820.0 L1019.4,822.2 L1020.5,824.3 L1021.5,826.5 L1022.6,828.7 L1023.6,830.9 L1024.7,833.1 L1025.7,835.3 L1026.7,837.5 L1027.8,839.6 L1028.8,841.8 L1029.8,844.0 L1030.8,846.2 L1031.8,848.4 L1032.8,850.6 L1033.8,852.8 L1034.8,855.0 L1035.8,857.2 L1036.8,859.4 L1037.8,861.6 L1038.8,863.8 L1039.8,866.0 L1040.8,868.2 L1041.7,870.4 L1042.7,872.6 L1043.7,874.8 L1044.7,877.0 L1045.7,879.3 L1046.6,881.5 L1047.6,883.7 L1048.6,885.9 L1049.6,888.2 L1050.5,890.4 L1051.5,892.6 L1052.5,894.8 L1053.4,897.1 L1054.4,899.3 L1055.3,901.6 L1056.3,903.8 L1057.3,906.0 L1058.2,908.3 L1059.2,910.5 L1060.1,912.8 L1061.1,915.0 L1062.0,917.3 L1063.0,919.5 L1063.9,921.8 L1064.9,924.0 L1065.8,926.3 L1066.8,928.5 L1067.7,930.8 L1068.7,933.1 L1069.6,935.3 L1070.6,937.6 L1071.5,939.9 L1072.4,942.1 L1073.4,944.4 L1074.3,946.7 L1075.3,948.9 L1076.2,951.2 L1077.1,953.5 L1078.1,955.7 L1079.0,958.0 L1079.9,960.3 L1080.9,962.6 L1081.8,964.9 L1082.7,967.1 L1083.7,969.4 L1084.6,971.7 L1085.5,974.0 L1086.5,976.3 L1087.4,978.6 L1088.3,980.8 L1089.2,983.1 L1090.2,985.4 L1091.1,987.7 L1092.0,990.0 L1092.9,992.3 L1093.9,994.6 L1094.8,996.9 L1095.7,999.2 L1096.6,1001.5 L1097.5,1003.8 L1098.5,1006.1 L1099.4,1008.4 L1100.3,1010.7 L1101.2,1012.9 L1102.2,1015.2 L1103.1,1017.5 L1104.0,1019.8 L1104.9,1022.1 L1105.8,1024.4 L1106.8,1026.7 L1107.7,1029.0 L1108.6,1031.4 L1109.5,1033.7 L1110.4,1036.0 L1111.3,1038.3 L1112.3,1040.6 L1113.2,1042.9 L1114.1,1045.2 L1115.0,1047.5 L1115.9,1049.8 L1116.9,1052.1 L1117.8,1054.4 L1118.7,1056.7 L1119.6,1059.0 L1120.5,1061.3 L1121.5,1063.6 L1122.4,1065.9 L1123.3,1068.2 L1124.2,1070.5 L1125.1,1072.8 L1126.1,1075.1 L1127.0,1077.4 L1127.9,1079.7 L1128.8,1082.0 L1129.7,1084.3 L1130.7,1086.7 L1131.6,1089.0 L1132.5,1091.3 L1133.4,1093.6 L1134.4,1095.9 L1135.3,1098.2 L1136.2,1100.5 L1137.2,1102.8 L1138.1,1105.1 L1139.0,1107.4 L1139.9,1109.7 L1140.9,1112.0 L1141.8,1114.3 L1142.8,1116.6 L1143.7,1118.9 L1144.6,1121.1 L1145.6,1123.4 L1146.5,1125.7 L1147.5,1128.0 L1148.4,1130.3 L1149.4,1132.6 L1150.3,1134.9 L1151.3,1137.2 L1152.2,1139.4 L1153.2,1141.7 L1154.2,1144.0 L1155.1,1146.3 L1156.1,1148.5 L1157.1,1150.8 L1158.1,1153.1 L1159.1,1155.4 L1160.0,1157.6 L1161.0,1159.9 L1162.0,1162.1 L1163.0,1164.4 L1164.0,1166.7 L1165.0,1168.9 L1166.1,1171.2 L1167.1,1173.4 L1168.1,1175.7 L1169.1,1177.9 L1170.1,1180.1 L1171.2,1182.4 L1172.2,1184.6 L1173.3,1186.8 L1174.3,1189.1 L1175.4,1191.3 L1176.4,1193.5 L1177.5,1195.7 L1178.6,1197.9 L1179.6,1200.1 L1180.7,1202.3 L1181.8,1204.5 L1182.9,1206.7 L1184.0,1208.9 L1185.1,1211.1 L1186.2,1213.3 L1187.4,1215.5 L1188.5,1217.7 L1189.6,1219.8 L1190.8,1222.0 L1191.9,1224.2 L1193.1,1226.3 L1194.2,1228.5 L1195.4,1230.6 L1196.6,1232.8 L1197.7,1234.9 L1198.9,1237.1 L1200.1,1239.2 L1201.3,1241.3 L1202.5,1243.5 L1203.8,1245.6 L1205.0,1247.7 L1206.2,1249.8 L1207.5,1251.9 L1208.7,1254.0 L1210.0,1256.1 L1211.3,1258.2 L1212.5,1260.2 L1213.8,1262.3 L1215.1,1264.4 L1216.4,1266.5 L1217.7,1268.5 L1219.1,1270.6 L1220.4,1272.6 L1221.7,1274.7 L1223.1,1276.7 L1224.4,1278.7 L1225.8,1280.7 L1227.2,1282.8 L1228.6,1284.8 L1230.0,1286.8 L1231.4,1288.8 L1232.8,1290.8 L1234.2,1292.8 L1235.6,1294.7 L1237.1,1296.7 L1238.5,1298.7 L1240.0,1300.6 L1241.5,1302.6 L1243.0,1304.5 L1244.4,1306.5 L1245.9,1308.4 L1247.4,1310.3 L1249.0,1312.2 L1250.5,1314.1 L1252.0,1316.1 L1253.6,1317.9 L1255.1,1319.8 L1256.7,1321.7 L1258.3,1323.6 L1259.9,1325.5 L1261.5,1327.3 L1263.1,1329.2 L1264.7,1331.0 L1266.3,1332.8 L1267.9,1334.7 L1269.6,1336.5 L1271.2,1338.3 L1272.9,1340.1 L1274.6,1341.9 L1276.2,1343.7 L1277.9,1345.5 L1279.6,1347.2 L1281.4,1349.0 L1283.1,1350.8 L1284.8,1352.5 L1286.6,1354.2 L1288.3,1356.0 L1290.1,1357.7 L1291.8,1359.4 L1293.6,1361.1 L1295.4,1362.8 L1297.2,1364.5 L1299.0,1366.1 L1300.9,1367.8 L1302.7,1369.5 L1304.5,1371.1 L1306.4,1372.8 L1308.3,1374.4 L1310.1,1376.0 L1312.0,1377.6 L1313.9,1379.2 L1315.8,1380.8 L1317.7,1382.4 L1319.7,1384.0 L1321.6,1385.5 L1323.6,1387.1 L1325.5,1388.6 L1327.5,1390.2 L1329.5,1391.7 L1331.5,1393.2 L1333.5,1394.7 L1335.5,1396.2 L1337.5,1397.6 L1339.5,1399.1 L1341.6,1400.5 L1343.6,1401.9 L1345.7,1403.3 L1347.8,1404.6 L1349.9,1405.9 L1352.0,1407.2 L1354.2,1408.5 L1356.3,1409.7 L1358.5,1410.9 L1360.6,1412.1 L1362.8,1413.2 L1365.0,1414.3 L1367.2,1415.3 L1369.5,1416.3 L1371.7,1417.2 L1374.0,1418.1 L1376.3,1419.0 L1378.5,1419.8 L1380.9,1420.6 L1383.2,1421.4 L1385.5,1422.1 L1387.8,1422.8 L1390.2,1423.5 L1392.5,1424.2 L1394.9,1424.8 L1397.3,1425.5 L1399.6,1426.1 L1402.0,1426.7 L1404.4,1427.3 L1406.8,1427.9 L1409.2,1428.5 L1411.6,1429.1 L1414.0,1429.7 L1416.4,1430.3 L1418.8,1430.9 L1421.2,1431.5 L1423.6,1432.1 L1426.0,1432.7 L1428.4,1433.3 L1430.8,1433.9 L1433.2,1434.5 L1435.7,1435.1 L1438.1,1435.7 L1440.5,1436.3 L1442.9,1436.9 L1445.3,1437.5 L1447.7,1438.1 L1450.1,1438.7 L1452.5,1439.2 L1454.9,1439.8 L1457.3,1440.4 L1459.7,1440.9 L1462.2,1441.4 L1464.6,1441.9 L1467.0,1442.4 L1469.4,1442.8 L1471.8,1443.2 L1474.3,1443.6 L1476.7,1443.9 L1479.1,1444.3 L1481.6,1444.5 L1484.0,1444.8 L1486.5,1445.0 L1488.9,1445.3 L1491.4,1445.5 L1493.8,1445.6 L1496.3,1445.8 L1498.7,1446.0 L1501.2,1446.1 L1503.6,1446.3 L1506.1,1446.4 L1508.5,1446.6 L1511.0,1446.7 L1513.5,1446.8 L1515.9,1446.9 L1518.4,1447.1 L1520.8,1447.2 L1523.3,1447.3 L1525.8,1447.4 L1528.2,1447.5 L1530.7,1447.6 L1533.1,1447.7 L1535.6,1447.8 L1538.1,1447.9 L1540.5,1448.0 L1543.0,1448.1 L1545.4,1448.2 L1547.9,1448.3 L1550.4,1448.4 L1552.8,1448.5 L1555.3,1448.5 L1557.7,1448.6 L1560.2,1448.7 L1562.7,1448.8 L1565.1,1448.8 L1567.6,1448.9 L1570.1,1449.0 L1572.5,1449.0 L1575.0,1449.1 L1577.4,1449.1 L1579.9,1449.2 L1582.4,1449.2 L1584.8,1449.3 L1587.3,1449.3 L1589.8,1449.4 L1592.2,1449.4 L1594.7,1449.4 L1597.2,1449.5 L1599.6,1449.5 L1602.1,1449.6 L1604.5,1449.6 L1607.0,1449.6 L1609.5,1449.6 L1611.9,1449.7 L1614.4,1449.7 L1616.9,1449.7 L1619.3,1449.7 L1621.8,1449.8 L1624.3,1449.8 L1626.7,1449.8 L1629.2,1449.8 L1631.7,1449.8 L1634.1,1449.8 L1636.6,1449.9 L1639.1,1449.9 L1641.5,1449.9 L1644.0,1449.9 L1646.5,1449.9 L1648.9,1449.9 L1651.4,1449.9 L1653.8,1449.9 L1656.3,1449.9 L1658.8,1449.9 L1661.2,1449.9 L1663.7,1449.9 L1666.2,1449.9 L1668.6,1449.9 L1671.1,1449.9 L1673.6,1449.9 L1676.0,1449.9 L1678.5,1449.9 L1681.0,1449.9 L1683.4,1449.9 L1685.9,1449.9 L1688.4,1449.9 L1690.8,1449.9 L1693.3,1449.9 L1695.8,1449.9 L1698.2,1449.9 L1700.7,1449.9 L1703.2,1449.9 L1705.6,1449.8 L1708.1,1449.8 L1710.6,1449.8 L1713.0,1449.8 L1715.5,1449.8 L1718.0,1449.8 L1720.4,1449.8 L1722.9,1449.8 L1725.4,1449.8 L1727.8,1449.8 L1730.3,1449.8 L1732.8,1449.8 L1735.2,1449.8 L1737.7,1449.8 L1740.2,1449.8 L1742.6,1449.8 L1745.1,1449.8 L1747.6,1449.8 L1750.0,1449.8 L1752.5,1449.8 L1755.0,1449.8 L1757.4,1449.8 L1759.9,1449.8 L1762.3,1449.8 L1764.8,1449.8 L1767.3,1449.8 L1769.7,1449.8 L1772.2,1449.8 L1774.7,1449.8 L1777.1,1449.8 L1779.6,1449.8 L1782.1,1449.9 L1784.5,1449.9 L1787.0,1449.9 L1789.5,1449.9 L1791.9,1449.9 L1794.4,1449.9 L1796.9,1449.9 L1799.3,1449.9 L1801.8,1449.9 L1804.2,1449.9 L1806.7,1450.0 L1809.2,1450.0 L1811.6,1450.0 L1814.1,1450.0 L1816.6,1450.0 L1819.0,1450.0 L1821.5,1450.0 L1824.0,1450.0 L1826.4,1450.1 L1828.9,1450.1 L1831.4,1450.1 L1833.8,1450.1 L1836.3,1450.1 L1838.7,1450.1 L1841.2,1450.1 L1843.7,1450.2 L1846.1,1450.2 L1848.6,1450.2 L1851.1,1450.2 L1853.5,1450.2 L1856.0,1450.2 L1858.5,1450.2 L1860.9,1450.3 L1863.4,1450.3 L1865.9,1450.3 L1868.3,1450.3 L1870.8,1450.3 L1873.2,1450.3 L1875.7,1450.4 L1878.2,1450.4 L1880.6,1450.4 L1883.1,1450.4 L1885.6,1450.4 L1888.0,1450.4 L1890.5,1450.4 L1893.0,1450.4 L1895.4,1450.5 L1897.9,1450.5 L1900.3,1450.5 L1902.8,1450.5 L1905.3,1450.5 L1907.7,1450.5 L1910.2,1450.5 L1912.7,1450.5 L1915.1,1450.5 L1917.6,1450.6 L1920.1,1450.6 L1922.5,1450.6 L1925.0,1450.6 L1927.5,1450.6 L1929.9,1450.6 L1932.4,1450.6 L1934.9,1450.6 L1937.3,1450.6 L1939.8,1450.6 L1942.2,1450.6 L1944.7,1450.6 L1947.2,1450.6 L1949.6,1450.6 L1952.1,1450.6 L1954.6,1450.7 L1957.0,1450.7 L1959.5,1450.7 L1962.0,1450.7 L1964.4,1450.7 L1966.9,1450.7 L1969.4,1450.7 L1971.8,1450.6 L1974.3,1450.6 L1976.8,1450.6 L1979.2,1450.6 L1981.7,1450.6 L1984.2,1450.6 L1986.6,1450.6 L1989.1,1450.6 L1991.6,1450.6 L1994.0,1450.6 L1996.5,1450.6 L1999.0,1450.6 L2001.4,1450.6 L2003.9,1450.5 L2006.3,1450.5 L2008.8,1450.5 L2011.3,1450.5 L2013.7,1450.5 L2016.2,1450.5 L2018.7,1450.5 L2021.1,1450.4 L2023.6,1450.4" stroke="#ad5b5b"/>
<path d="M216.7,48.1 L216.8,50.4 L216.9,52.8 L217.0,55.1 L217.1,57.4 L217.2,59.8 L217.4,62.1 L217.5,64.5 L217.6,66.8 L217.7,69.1 L217.8,71.5 L217.9,73.8 L218.0,76.2 L218.1,78.5 L218.2,80.9 L218.3,83.2 L218.4,85.5 L218.5,87.9 L218.6,90.2 L218.7,92.6 L218.8,94.9 L218.9,97.3 L219.0,99.6 L219.1,101.9 L219.2,104.3 L219.4,106.6 L219.5,109.0 L219.6,111.3 L219.7,113.7 L219.8,116.0 L219.9,118.3 L220.0,120.7 L220.1,123.0 L220.2,125.4 L220.3,127.7 L220.4,130.1 L220.5,132.4 L220.6,134.8 L220.7,137.1 L220.8,139.4 L220.9,141.8 L221.0,144.1 L221.2,146.5 L221.3,148.8 L221.4,151.2 L221.5,153.5 L221.6,155.9 L221.7,158.2 L221.8,160.6 L221.9,162.9 L222.0,165.2 L222.1,167.6 L222.2,169.9 L222.3,172.3 L222.4,174.6 L222.5,177.0 L222.6,179.3 L222.8,181.7 L222.9,184.0 L223.0,186.4 L223.1,188.7 L223.2,191.0 L223.3,193.4 L223.4,195.7 L223.5,198.1 L223.6,200.4 L223.7,202.8 L223.8,205.1 L223.9,207.5 L224.0,209.8 L224.2,212.2 L224.3,214.5 L224.4,216.9 L224.5,219.2 L224.6,221.6 L224.7,223.9 L224.8,226.2 L224.9,228.6 L225.0,230.9 L225.1,233.3 L225.2,235.6 L225.3,238.0 L225.4,240.3 L225.6,242.7 L225.7,245.0 L225.8,247.4 L225.9,249.7 L226.0,252.1 L226.1,254.4 L226.2,256.8 L226.3,259.1 L226.4,261.5 L226.5,263.8 L226.6,266.1 L226.7,268.5 L226.9,270.8 L227.0,273.2 L227.1,275.5 L227.2,277.9 L227.3,280.2 L227.4,282.6 L227.5,284.9 L227.6,287.3 L227.7,289.6 L227.8,292.0 L227.9,294.3 L228.0,296.7 L228.2,299.0 L228.3,301.4 L228.4,303.7 L228.5,306.1 L228.6,308.4 L228.7,310.7 L228.8,313.1 L228.9,315.4 L229.0,317.8 L229.1,320.1 L229.2,322.5 L229.3,324.8 L229.5,327.2 L229.6,329.5 L229.7,331.9 L229.8,334.2 L229.9,336.6 L230.0,338.9 L230.1,341.3 L230.2,343.6 L230.3,346.0 L230.4,348.3 L230.5,350.7 L230.7,353.0 L230.8,355.3 L230.9,357.7 L231.0,360.0 L231.1,362.4 L231.2,364.7 L231.3,367.1 L231.4,369.4 L231.5,371.8 L231.6,374.1 L231.7,376.5 L231.9,378.8 L232.0,381.2 L232.1,383.5 L232.2,385.9 L232.3,388.2 L232.4,390.6 L232.5,392.9 L232.6,395.2 L232.7,397.6 L232.8,399.9 L232.9,402.3 L233.0,404.6 L233.2,407.0 L233.3,409.3 L233.4,411.7 L233.5,414.0 L233.6,416.4 L233.7,418.7 L233.8,421.1 L233.9,423.4 L234.0,425.7 L234.1,428.1 L234.2,430.4 L234.4,432.8 L234.5,435.1 L234.6,437.5 L234.7,439.8 L234.8,442.2 L234.9,444.5 L235.0,446.9 L235.1,449.2 L235.2,451.6 L235.3,453.9 L235.4,456.2 L235.6,458.6 L235.7,460.9 L235.8,463.3 L235.9,465.6 L236.0,468.0 L236.1,470.3 L236.2,472.7 L236.3,475.0 L236.4,477.4 L236.5,479.7 L236.6,482.0 L236.8,484.4 L236.9,486.7 L237.0,489.1 L237.1,491.4 L237.2,493.8 L237.3,496.1 L237.4,498.4 L237.5,500.8 L237.6,503.1 L237.7,505.5 L237.8,507.8 L237.9,510.2 L238.1,512.5 L238.2,514.9 L238.3,517.2 L238.4,519.5 L238.5,521.9 L238.6,524.2 L238.7,526.6 L238.8,528.9 L238.9,531.3 L239.0,533.6 L239.1,535.9 L239.2,538.3 L239.4,540.6 L239.5,543.0 L239.6,545.3 L239.7,547.7 L239.8,550.0 L239.9,552.3 L240.0,554.7 L240.1,557.0 L240.2,559.4 L240.3,561.7 L240.4,564.0 L240.6,566.4 L240.7,568.7 L240.8,571.1 L240.9,573.4 L241.0,575.8 L241.1,578.1 L241.2,580.4 L241.3,582.8 L241.4,585.1 L241.5,587.5 L241.6,589.8 L241.7,592.1 L241.9,594.5 L242.0,596.8 L242.1,599.2 L242.2,601.5 L242.3,603.9 L242.4,606.2 L242.5,608.5 L242.6,610.9 L242.7,613.2 L242.8,615.6 L243.0,617.9 L243.1,620.3 L243.2,622.6 L243.3,624.9 L243.4,627.3 L243.5,629.6 L243.6,632.0 L243.7,634.3 L243.8,636.7 L243.9,639.0 L244.1,641.3 L244.2,643.7 L244.3,646.0 L244.4,648.4 L244.5,650.7 L244.6,653.1 L244.7,655.4 L244.8,657.7 L245.0,660.1 L245.1,662.4 L245.2,664.8 L245.3,667.1 L245.4,669.5 L245.5,671.8 L245.6,674.2 L245.7,676.5 L245.9,678.9 L246.0,681.2 L246.1,683.6 L246.2,685.9 L246.3,688.2 L246.4,690.6 L246.5,692.9 L246.7,695.3 L246.8,697.6 L246.9,700.0 L247.0,702.3 L247.1,704.7 L247.2,707.0 L247.4,709.4 L247.5,711.7 L247.6,714.1 L247.7,716.4 L247.8,718.8 L247.9,721.1 L248.1,723.5 L248.2,725.8 L248.3,728.2 L248.4,730.5 L248.5,732.9 L248.7,735.3 L248.8,737.6 L248.9,740.0 L249.0,742.3 L249.1,744.7 L249.3,747.0 L249.4,749.4 L249.5,751.7 L249.6,754.1 L249.8,756.5 L249.9,758.8 L250.0,761.2 L250.1,763.5 L250.2,765.9 L250.4,768.2 L250.5,770.6 L250.6,773.0 L250.7,775.3 L250.9,777.7 L251.0,780.0 L251.1,782.4 L251.3,784.8 L251.4,787.1 L251.5,789.5 L251.7,791.8 L251.8,794.2 L252.0,796.5 L252.1,798.9 L252.3,801.2 L252.4,803.6 L252.6,806.0 L252.7,808.3 L252.9,810.7 L253.0,813.0 L253.2,815.4 L253.4,817.7 L253.5,820.1 L253.7,822.4 L253.9,824.8 L254.1,827.1 L254.3,829.4 L254.5,831.8 L254.7,834.1 L254.9,836.5 L255.1,838.8 L255.3,841.1 L255.5,843.5 L255.7,845.8 L255.9,848.1 L256.2,850.5 L256.4,852.8 L256.6,855.1 L256.9,857.4 L257.1,859.8 L257.4,862.1 L257.7,864.4 L257.9,866.7 L258.2,869.0 L258.5,871.3 L258.8,873.6 L259.1,875.9 L259.4,878.2 L259.7,880.5 L260.0,882.8 L260.3,885.1 L260.7,887.4 L261.0,889.7 L261.3,892.0 L261.7,894.3 L262.1,896.6 L262.4,898.9 L262.8,901.1 L263.2,903.4 L263.6,905.7 L264.0,908.0 L264.4,910.3 L264.8,912.6 L265.2,914.9 L265.6,917.2 L266.1,919.5 L266.5,921.7 L267.0,924.0 L267.4,926.3 L267.9,928.6 L268.4,930.9 L268.9,933.2 L269.4,935.5 L269.9,937.8 L270.4,940.1 L270.9,942.4 L271.5,944.8 L272.0,947.1 L272.6,949.4 L273.1,951.7 L273.7,954.0 L274.3,956.4 L274.9,958.7 L275.4,961.0 L276.1,963.4 L276.7,965.7 L277.3,968.0 L278.0,970.3 L278.7,972.6 L279.5,974.9 L280.3,977.1 L281.2,979.3 L282.2,981.5 L283.3,983.5 L284.5,985.5 L285.7,987.5 L287.1,989.3 L288.7,991.1 L290.3,992.8 L292.1,994.3 L294.0,995.4 L296.0,995.7 L298.1,995.2 L300.1,994.3 L302.1,993.2 L304.0,992.0 L305.8,990.7 L307.6,989.4 L309.4,987.9 L311.0,986.3 L312.7,984.7 L314.3,983.0 L315.8,981.2 L317.4,979.4 L318.8,977.5 L320.3,975.6 L321.7,973.6 L323.1,971.6 L324.4,969.5 L325.8,967.4 L327.1,965.3 L328.4,963.2 L329.6,961.0 L330.9,958.9 L332.1,956.7 L333.4,954.6 L334.6,952.5 L335.8,950.3 L337.1,948.2 L338.3,946.1 L339.5,944.0 L340.7,941.9 L341.9,939.8 L343.1,937.8 L344.3,935.7 L345.5,933.6 L346.6,931.6 L347.8,929.5 L349.0,927.5 L350.1,925.5 L351.3,923.4 L352.4,921.4 L353.6,919.4 L354.7,917.4 L355.8,915.4 L357.0,913.4 L358.1,911.4 L359.2,909.4 L360.3,907.4 L361.4,905.4 L362.5,903.4 L363.6,901.4 L364.7,899.4 L365.8,897.4 L366.8,895.4 L367.9,893.4 L369.0,891.4 L370.0,889.4 L371.1,887.5 L372.1,885.5 L373.1,883.5 L374.2,881.5 L375.2,879.5 L376.2,877.5 L377.2,875.5 L378.2,873.5 L379.3,871.5 L380.3,869.5 L381.2,867.5 L382.2,865.5 L383.2,863.4 L384.2,861.4 L385.2,859.4 L386.1,857.4 L387.1,855.3 L388.1,853.3 L389.0,851.2 L390.0,849.2 L390.9,847.1 L391.8,845.0 L392.8,843.0 L393.7,840.9 L394.6,838.8 L395.5,836.7 L396.4,834.6 L397.3,832.5 L398.2,830.3 L399.1,828.2 L400.0,826.0 L400.9,823.9 L401.8,821.7 L402.6,819.5 L403.5,817.3 L404.4,815.1 L405.2,812.9 L406.1,810.7 L406.9,808.5 L407.7,806.2 L408.6,803.9 L409.4,801.7 L410.2,799.4 L411.0,797.1 L411.9,794.7 L412.7,792.4 L413.5,790.1 L414.3,787.7 L415.1,785.3 L415.9,782.9 L416.6,780.5 L417.4,778.1 L418.2,775.6 L419.0,773.2 L419.7,770.7 L420.5,768.2 L421.3,765.7 L422.1,763.3 L422.9,760.8 L423.7,758.3 L424.5,755.8 L425.3,753.4 L426.1,751.0 L427.0,748.6 L427.9,746.2 L428.8,743.8 L429.7,741.5 L430.7,739.2 L431.6,736.9 L432.7,734.7 L433.7,732.5 L434.8,730.4 L435.9,728.3 L437.1,726.3 L438.3,724.3 L439.5,722.4 L440.8,720.5 L442.1,718.8 L443.5,717.0 L445.0,715.4 L446.5,713.8 L448.0,712.3 L449.6,710.9 L451.3,709.6 L453.0,708.4 L454.8,707.2 L456.7,706.2 L458.6,705.3 L460.6,704.4 L462.7,703.7 L464.8,703.1 L467.0,702.5 L469.3,702.2 L471.5,701.9 L473.8,701.8 L476.1,701.8 L478.4,702.0 L480.6,702.3 L482.8,702.8 L485.0,703.4 L487.1,704.3 L489.1,705.3 L490.9,706.5 L492.7,707.8 L494.4,709.4 L496.0,711.1 L497.4,713.0 L498.8,715.0 L500.2,717.1 L501.4,719.3 L502.6,721.6 L503.8,723.9 L504.9,726.3 L506.0,728.7 L507.1,731.1 L508.1,733.5 L509.2,735.9 L510.2,738.3 L511.3,740.6 L512.3,742.9 L513.3,745.2 L514.3,747.5 L515.4,749.7 L516.4,751.9 L517.4,754.2 L518.4,756.4 L519.4,758.6 L520.4,760.7 L521.3,762.9 L522.3,765.1 L523.3,767.2 L524.3,769.3 L525.2,771.4 L526.2,773.6 L527.1,775.7 L528.1,777.8 L529.0,779.8 L530.0,781.9 L530.9,784.0 L531.8,786.1 L532.7,788.2 L533.7,790.2 L534.6,792.3 L535.5,794.4 L536.4,796.4 L537.3,798.5 L538.2,800.6 L539.1,802.6 L540.0,804.7 L540.9,806.8 L541.8,808.9 L542.6,811.0 L543.5,813.1 L544.4,815.2 L545.3,817.3 L546.1,819.4 L547.0,821.5 L547.9,823.7 L548.7,825.8 L549.6,828.0 L550.4,830.1 L551.3,832.3 L552.1,834.5 L553.0,836.7 L553.8,838.9 L554.7,841.1 L555.5,843.3 L556.4,845.5 L557.2,847.7 L558.1,849.9 L558.9,852.1 L559.8,854.4 L560.6,856.6 L561.5,858.8 L562.3,861.0 L563.2,863.3 L564.1,865.5 L564.9,867.7 L565.8,870.0 L566.7,872.2 L567.6,874.4 L568.4,876.6 L569.3,878.9 L570.2,881.1 L571.1,883.3 L572.0,885.5 L573.0,887.7 L573.9,889.9 L574.8,892.1 L575.7,894.3 L576.7,896.5 L577.6,898.7 L578.6,900.9 L579.6,903.0 L580.5,905.2 L581.5,907.4 L582.5,909.5 L583.5,911.7 L584.5,913.8 L585.5,915.9 L586.6,918.1 L587.6,920.2 L588.6,922.3 L589.7,924.4 L590.7,926.5 L591.8,928.6 L592.9,930.7 L593.9,932.8 L595.0,934.9 L596.1,936.9 L597.2,939.0 L598.3,941.1 L599.4,943.1 L600.5,945.2 L601.6,947.2 L602.7,949.3 L603.8,951.3 L605.0,953.4 L606.1,955.4 L607.2,957.4 L608.4,959.5 L609.5,961.5 L610.7,963.5 L611.8,965.5 L613.0,967.6 L614.2,969.6 L615.3,971.6 L616.5,973.6 L617.7,975.6 L618.9,977.6 L620.0,979.6 L621.2,981.6 L622.4,983.6 L623.6,985.6 L624.8,987.6 L626.0,989.6 L627.2,991.6 L628.4,993.5 L629.6,995.5 L630.8,997.5 L632.0,999.5 L633.2,1001.5 L634.4,1003.5 L635.6,1005.4 L636.8,1007.4 L638.0,1009.4 L639.3,1011.4 L640.5,1013.4 L641.7,1015.3 L642.9,1017.3 L644.1,1019.3 L645.3,1021.3 L646.5,1023.3 L647.8,1025.2 L649.0,1027.2 L650.2,1029.2 L651.4,1031.2 L652.6,1033.2 L653.8,1035.2 L655.0,1037.2 L656.2,1039.1 L657.4,1041.1 L658.6,1043.1 L659.8,1045.1 L661.0,1047.1 L662.2,1049.1 L663.4,1051.1 L664.6,1053.1 L665.8,1055.1 L667.0,1057.1 L668.2,1059.1 L669.4,1061.2 L670.6,1063.2 L671.8,1065.2 L672.9,1067.2 L674.1,1069.2 L675.3,1071.3 L676.4,1073.3 L677.6,1075.3 L678.8,1077.4 L679.9,1079.4 L681.1,1081.5 L682.2,1083.5 L683.3,1085.6 L684.5,1087.6 L685.6,1089.7 L686.8,1091.8 L687.9,1093.8 L689.0,1095.9 L690.1,1098.0 L691.2,1100.0 L692.4,1102.1 L693.5,1104.2 L694.6,1106.3 L695.7,1108.4 L696.8,1110.5 L697.9,1112.5 L699.0,1114.6 L700.0,1116.7 L701.1,1118.8 L702.2,1120.9 L703.3,1123.0 L704.4,1125.1 L705.4,1127.2 L706.5,1129.3 L707.6,1131.5 L708.6,1133.6 L709.7,1135.7 L710.7,1137.8 L711.8,1139.9 L712.9,1142.0 L713.9,1144.1 L714.9,1146.2 L716.0,1148.4 L717.0,1150.5 L718.1,1152.6 L719.1,1154.7 L720.1,1156.8 L721.1,1159.0 L722.2,1161.1 L723.2,1163.2 L724.2,1165.3 L725.2,1167.4 L726.2,1169.6 L727.2,1171.7 L728.2,1173.8 L729.2,1175.9 L730.2,1178.1 L731.2,1180.2 L732.2,1182.3 L733.2,1184.4 L734.2,1186.5 L735.2,1188.7 L736.2,1190.8 L737.2,1192.9 L738.2,1195.0 L739.1,1197.1 L740.1,1199.3 L741.1,1201.4 L742.0,1203.5 L743.0,1205.6 L744.0,1207.7 L744.9,1209.8 L745.9,1211.9 L746.9,1214.0 L747.8,1216.1 L748.8,1218.2 L749.7,1220.3 L750.7,1222.4 L751.6,1224.5 L752.6,1226.6 L753.5,1228.7 L754.5,1230.8 L755.4,1232.9 L756.3,1235.0 L757.3,1237.1 L758.2,1239.2 L759.1,1241.2 L760.1,1243.3 L761.0,1245.4 L762.0,1247.5 L762.9,1249.5 L763.8,1251.6 L764.8,1253.7 L765.7,1255.8 L766.7,1257.8 L767.6,1259.9 L768.6,1262.0 L769.5,1264.0 L770.5,1266.1 L771.5,1268.1 L772.5,1270.2 L773.5,1272.3 L774.4,1274.3 L775.4,1276.4 L776.4,1278.4 L777.5,1280.5 L778.5,1282.6 L779.5,1284.6 L780.6,1286.7 L781.6,1288.7 L782.7,1290.8 L783.7,1292.8 L784.8,1294.9 L785.9,1297.0 L787.0,1299.0 L788.1,1301.1 L789.3,1303.1 L790.4,1305.2 L791.6,1307.2 L792.7,1309.3 L793.9,1311.4 L795.1,1313.4 L796.3,1315.5 L797.6,1317.5 L798.8,1319.6 L800.1,1321.7 L801.3,1323.7 L802.6,1325.8 L804.0,1327.8 L805.3,1329.9 L806.6,1332.0 L808.0,1334.0 L809.4,1336.1 L810.8,1338.1 L812.2,1340.2 L813.6,1342.2 L815.1,1344.2 L816.5,1346.2 L818.0,1348.2 L819.5,1350.2 L821.0,1352.2 L822.5,1354.2 L824.1,1356.1 L825.6,1358.1 L827.2,1360.0 L828.8,1361.9 L830.4,1363.8 L832.0,1365.7 L833.6,1367.5 L835.3,1369.4 L836.9,1371.2 L838.6,1373.0 L840.3,1374.8 L842.0,1376.5 L843.7,1378.2 L845.4,1379.9 L847.2,1381.6 L849.0,1383.2 L850.7,1384.9 L852.5,1386.5 L854.3,1388.0 L856.1,1389.5 L858.0,1391.0 L859.8,1392.5 L861.7,1393.9 L863.6,1395.3 L865.5,1396.7 L867.4,1398.0 L869.3,1399.3 L871.2,1400.5 L873.1,1401.8 L875.1,1402.9 L877.1,1404.1 L879.0,1405.2 L881.0,1406.3 L883.0,1407.3 L885.0,1408.3 L887.1,1409.3 L889.1,1410.3 L891.2,1411.2 L893.2,1412.1 L895.3,1412.9 L897.4,1413.8 L899.5,1414.6 L901.6,1415.4 L903.7,1416.1 L905.8,1416.8 L907.9,1417.5 L910.1,1418.2 L912.2,1418.8 L914.4,1419.5 L916.5,1420.1 L918.7,1420.6 L920.9,1421.2 L923.1,1421.7 L925.3,1422.2 L927.5,1422.7 L929.7,1423.2 L931.9,1423.6 L934.2,1424.0 L936.4,1424.4 L938.7,1424.8 L940.9,1425.2 L943.2,1425.5 L945.4,1425.8 L947.7,1426.2 L950.0,1426.5 L952.3,1426.7 L954.5,1427.0 L956.8,1427.3 L959.1,1427.5 L961.4,1427.7 L963.7,1427.9 L966.1,1428.1 L968.4,1428.3 L970.7,1428.5 L973.0,1428.6 L975.3,1428.8 L977.7,1428.9 L980.0,1429.1 L982.3,1429.2 L984.7,1429.3 L987.0,1429.4 L989.4,1429.5 L991.7,1429.6 L994.1,1429.7 L996.4,1429.8 L998.8,1429.8 L1001.1,1429.9 L1003.5,1430.0 L1005.8,1430.0 L1008.2,1430.1 L1010.6,1430.1 L1012.9,1430.2 L1015.3,1430.2 L1017.7,1430.3 L1020.0,1430.3 L1022.4,1430.4 L1024.7,1430.4 L1027.1,1430.5 L1029.5,1430.5 L1031.8,1430.6 L1034.2,1430.6 L1036.5,1430.7 L1038.9,1430.7 L1041.3,1430.8 L1043.6,1430.8 L1046.0,1430.9 L1048.3,1430.9 L1050.7,1431.0 L1053.1,1431.0 L1055.4,1431.1 L1057.8,1431.1 L1060.1,1431.2 L1062.5,1431.2 L1064.9,1431.2 L1067.2,1431.3 L1069.6,1431.3 L1071.9,1431.4 L1074.3,1431.4 L1076.7,1431.5 L1079.0,1431.5 L1081.4,1431.6 L1083.7,1431.6 L1086.1,1431.6 L1088.4,1431.7 L1090.8,1431.7 L1093.2,1431.8 L1095.5,1431.8 L1097.9,1431.9 L1100.2,1431.9 L1102.6,1431.9 L1105.0,1432.0 L1107.3,1432.0 L1109.7,1432.1 L1112.0,1432.1 L1114.4,1432.1 L1116.7,1432.2 L1119.1,1432.2 L1121.5,1432.3 L1123.8,1432.3 L1126.2,1432.3 L1128.5,1432.4 L1130.9,1432.4 L1133.2,1432.5 L1135.6,1432.5 L1137.9,1432.5 L1140.3,1432.6 L1142.7,1432.6 L1145.0,1432.6 L1147.4,1432.7 L1149.7,1432.7 L1152.1,1432.8 L1154.4,1432.8 L1156.8,1432.8 L1159.2,1432.9 L1161.5,1432.9 L1163.9,1432.9 L1166.2,1433.0 L1168.6,1433.0 L1170.9,1433.0 L1173.3,1433.1 L1175.6,1433.1 L1178.0,1433.2 L1180.3,1433.2 L1182.7,1433.2 L1185.1,1433.3 L1187.4,1433.3 L1189.8,1433.3 L1192.1,1433.4 L1194.5,1433.4 L1196.8,1433.4 L1199.2,1433.5 L1201.5,1433.5 L1203.9,1433.5 L1206.2,1433.6 L1208.6,1433.6 L1211.0,1433.6 L1213.3,1433.7 L1215.7,1433.7 L1218.0,1433.7 L1220.4,1433.7 L1222.7,1433.8 L1225.1,1433.8 L1227.4,1433.8 L1229.8,1433.9 L1232.1,1433.9 L1234.5,1433.9 L1236.8,1434.0 L1239.2,1434.0 L1241.5,1434.0 L1243.9,1434.0 L1246.3,1434.1 L1248.6,1434.1 L1251.0,1434.1 L1253.3,1434.2 L1255.7,1434.2 L1258.0,1434.2 L1260.4,1434.3 L1262.7,1434.3 L1265.1,1434.3 L1267.4,1434.3 L1269.8,1434.4 L1272.1,1434.4 L1274.5,1434.4 L1276.8,1434.4 L1279.2,1434.5 L1281.5,1434.5 L1283.9,1434.5 L1286.2,1434.6 L1288.6,1434.6 L1290.9,1434.6 L1293.3,1434.6 L1295.6,1434.7 L1298.0,1434.7 L1300.3,1434.7 L1302.7,1434.7 L1305.0,1434.8 L1307.4,1434.8 L1309.8,1434.8 L1312.1,1434.8 L1314.5,1434.9 L1316.8,1434.9 L1319.2,1434.9 L1321.5,1434.9 L1323.9,1435.0 L1326.2,1435.0 L1328.6,1435.0 L1330.9,1435.0 L1333.3,1435.1 L1335.6,1435.1 L1338.0,1435.1 L1340.3,1435.1 L1342.7,1435.2 L1345.0,1435.2 L1347.4,1435.2 L1349.7,1435.2 L1352.1,1435.2 L1354.4,1435.3 L1356.8,1435.3 L1359.1,1435.3 L1361.5,1435.3 L1363.8,1435.4 L1366.2,1435.4 L1368.5,1435.4 L1370.9,1435.4 L1373.2,1435.4 L1375.6,1435.5 L1377.9,1435.5 L1380.3,1435.5 L1382.6,1435.5 L1385.0,1435.6 L1387.3,1435.6 L1389.7,1435.6 L1392.0,1435.6 L1394.4,1435.6 L1396.7,1435.7 L1399.0,1435.7 L1401.4,1435.7 L1403.7,1435.7 L1406.1,1435.7 L1408.4,1435.8 L1410.8,1435.8 L1413.1,1435.8 L1415.5,1435.8 L1417.8,1435.8 L1420.2,1435.9 L1422.5,1435.9 L1424.9,1435.9 L1427.2,1435.9 L1429.6,1435.9 L1431.9,1436.0 L1434.3,1436.0 L1436.6,1436.0 L1439.0,1436.0 L1441.3,1436.0 L1443.7,1436.0 L1446.0,1436.1 L1448.4,1436.1 L1450.7,1436.1 L1453.1,1436.1 L1455.4,1436.1 L1457.8,1436.2 L1460.1,1436.2 L1462.5,1436.2 L1464.8,1436.2 L1467.2,1436.2 L1469.5,1436.2 L1471.9,1436.3 L1474.2,1436.3 L1476.5,1436.3 L1478.9,1436.3 L1481.2,1436.3 L1483.6,1436.3 L1485.9,1436.4 L1488.3,1436.4 L1490.6,1436.4 L1493.0,1436.4 L1495.3,1436.4 L1497.7,1436.4 L1500.0,1436.5 L1502.4,1436.5 L1504.7,1436.5 L1507.1,1436.5 L1509.4,1436.5 L1511.8,1436.5 L1514.1,1436.6 L1516.5,1436.6 L1518.8,1436.6 L1521.2,1436.6 L1523.5,1436.6 L1525.8,1436.6 L1528.2,1436.7 L1530.5,1436.7 L1532.9,1436.7 L1535.2,1436.7 L1537.6,1436.7 L1539.9,1436.7 L1542.3,1436.8 L1544.6,1436.8 L1547.0,1436.8 L1549.3,1436.8 L1551.7,1436.8 L1554.0,1436.8 L1556.4,1436.8 L1558.7,1436.9 L1561.1,1436.9 L1563.4,1436.9 L1565.7,1436.9 L1568.1,1436.9 L1570.4,1436.9 L1572.8,1436.9 L1575.1,1437.0 L1577.5,1437.0 L1579.8,1437.0 L1582.2,1437.0 L1584.5,1437.0 L1586.9,1437.0 L1589.2,1437.1 L1591.6,1437.1 L1593.9,1437.1 L1596.3,1437.1 L1598.6,1437.1 L1601.0,1437.1 L1603.3,1437.1 L1605.6,1437.2 L1608.0,1437.2 L1610.3,1437.2 L1612.7,1437.2 L1615.0,1437.2 L1617.4,1437.2 L1619.7,1437.2 L1622.1,1437.3 L1624.4,1437.3 L1626.8,1437.3 L1629.1,1437.3 L1631.5,1437.3 L1633.8,1437.3 L1636.2,1437.3 L1638.5,1437.4 L1640.9,1437.4 L1643.2,1437.4 L1645.5,1437.4 L1647.9,1437.4 L1650.2,1437.4 L1652.6,1437.4 L1654.9,1437.5 L1657.3,1437.5 L1659.6,1437.5 L1662.0,1437.5 L1664.3,1437.5 L1666.7,1437.5 L1669.0,1437.5 L1671.4,1437.6 L1673.7,1437.6 L1676.1,1437.6 L1678.4,1437.6 L1680.7,1437.6 L1683.1,1437.6 L1685.4,1437.6 L1687.8,1437.7 L1690.1,1437.7 L1692.5,1437.7 L1694.8,1437.7 L1697.2,1437.7 L1699.5,1437.7 L1701.9,1437.7 L1704.2,1437.8 L1706.6,1437.8 L1708.9,1437.8 L1711.3,1437.8 L1713.6,1437.8 L1716.0,1437.8 L1718.3,1437.8 L1720.6,1437.9 L1723.0,1437.9 L1725.3,1437.9 L1727.7,1437.9 L1730.0,1437.9 L1732.4,1437.9 L1734.7,1437.9 L1737.1,1438.0 L1739.4,1438.0 L1741.8,1438.0 L1744.1,1438.0 L1746.5,1438.0 L1748.8,1438.0 L1751.2,1438.0 L1753.5,1438.1 L1755.9,1438.1 L1758.2,1438.1 L1760.6,1438.1 L1762.9,1438.1 L1765.2,1438.1 L1767.6,1438.1 L1769.9,1438.2 L1772.3,1438.2 L1774.6,1438.2 L1777.0,1438.2 L1779.3,1438.2 L1781.7,1438.2 L1784.0,1438.2 L1786.4,1438.3 L1788.7,1438.3 L1791.1,1438.3 L1793.4,1438.3 L1795.8,1438.3 L1798.1,1438.3 L1800.5,1438.4 L1802.8,1438.4 L1805.2,1438.4 L1807.5,1438.4 L1809.9,1438.4 L1812.2,1438.4 L1814.5,1438.4 L1816.9,1438.5 L1819.2,1438.5 L1821.6,1438.5 L1823.9,1438.5 L1826.3,1438.5 L1828.6,1438.5 L1831.0,1438.6 L1833.3,1438.6 L1835.7,1438.6 L1838.0,1438.6 L1840.4,1438.6 L1842.7,1438.6 L1845.1,1438.7 L1847.4,1438.7 L1849.8,1438.7 L1852.1,1438.7 L1854.5,1438.7 L1856.8,1438.7 L1859.2,1438.8 L1861.5,1438.8 L1863.9,1438.8 L1866.2,1438.8 L1868.6,1438.8 L1870.9,1438.8 L1873.3,1438.9 L1875.6,1438.9 L1878.0,1438.9 L1880.3,1438.9 L1882.7,1438.9 L1885.0,1439.0 L1887.4,1439.0 L1889.7,1439.0 L1892.1,1439.0 L1894.4,1439.0 L1896.8,1439.0 L1899.1,1439.1 L1901.4,1439.1 L1903.8,1439.1 L1906.1,1439.1 L1908.5,1439.1 L1910.8,1439.2 L1913.2,1439.2 L1915.5,1439.2 L1917.9,1439.2 L1920.2,1439.2 L1922.6,1439.3 L1924.9,1439.3 L1927.3,1439.3 L1929.6,1439.3 L1932.0,1439.3 L1934.3,1439.4 L1936.7,1439.4 L1939.0,1439.4 L1941.4,1439.4 L1943.7,1439.4 L1946.1,1439.5 L1948.4,1439.5 L1950.8,1439.5 L1953.2,1439.5 L1955.5,1439.5 L1957.9,1439.6 L1960.2,1439.6 L1962.6,1439.6 L1964.9,1439.6 L1967.3,1439.6 L1969.6,1439.7 L1972.0,1439.7 L1974.3,1439.7 L1976.7,1439.7 L1979.0,1439.8 L1981.4,1439.8 L1983.7,1439.8 L1986.1,1439.8 L1988.4,1439.8 L1990.8,1439.9 L1993.1,1439.9 L1995.5,1439.9 L1997.8,1439.9 L2000.2,1440.0 L2002.5,1440.0 L2004.9,1440.0 L2007.2,1440.0 L2009.6,1440.1 L2011.9,1440.1 L2014.3,1440.1 L2016.6,1440.1 L2019.0,1440.1 L2021.3,1440.2 L2023.7,1440.2" stroke="#95b574"/>
</g>
<g font-family="'Liberation Sans', Arial, sans-serif" font-size="54" fill="#111" text-anchor="end">
<text x="140.2" y="1468.6">0</text>
<text x="140.2" y="1328.8">1</text>
<text x="140.2" y="1189.0">2</text>
<text x="140.2" y="1049.2">3</text>
<text x="140.2" y="909.4">4</text>
<text x="140.2" y="769.6">5</text>
<text x="140.2" y="629.8">6</text>
<text x="140.2" y="490.0">7</text>
<text x="140.2" y="350.2">8</text>
<text x="140.2" y="210.4">9</text>
<text x="140.2" y="70.6">10</text>
</g>
<g font-family="'Liberation Sans', Arial, sans-serif" fill="#111">
<text x="123.6" y="1533.3" font-size="54" textLength="90.2" lengthAdjust="spacingAndGlyphs">350</text>
<text x="429.5" y="1533.3" font-size="54" textLength="95.4" lengthAdjust="spacingAndGlyphs">450</text>
<text x="737.2" y="1533.3" font-size="54" textLength="94.2" lengthAdjust="spacingAndGlyphs">550</text>
<text x="1047.9" y="1533.3" font-size="54" textLength="93.8" lengthAdjust="spacingAndGlyphs">650</text>
<text x="1364.0" y="1533.3" font-size="54" textLength="92.7" lengthAdjust="spacingAndGlyphs">750</text>
<text x="1669.4" y="1533.3" font-size="54" textLength="92.3" lengthAdjust="spacingAndGlyphs">850</text>
<text x="1978.0" y="1533.3" font-size="54" textLength="93.4" lengthAdjust="spacingAndGlyphs">950</text>
</g>
<g font-family="'Liberation Sans', Arial, sans-serif" fill="#111">
<text x="887.0" y="1607.8" font-size="62" textLength="464.5" lengthAdjust="spacingAndGlyphs">Wavelength (nm)</text>
</g>
<g font-family="'Liberation Sans', Arial, sans-serif" fill="#111" transform="rotate(-90)">
<text x="-1377.2" y="70.6" font-size="61.8" textLength="807.4" lengthAdjust="spacingAndGlyphs">Molar extinction coefficient, ε</text>
<text x="-554.9" y="70.6" font-size="55.4" textLength="117.2" lengthAdjust="spacingAndGlyphs">(x 10</text>
<text x="-437.6" y="50.7" font-size="32.2" textLength="36.5" lengthAdjust="spacingAndGlyphs">−3</text>
<text x="-387.7" y="70.6" font-size="55.4" textLength="49.9" lengthAdjust="spacingAndGlyphs">M</text>
<text x="-338.2" y="50.7" font-size="32.2" textLength="35.9" lengthAdjust="spacingAndGlyphs">−1</text>
<text x="-287.5" y="70.6" font-size="55.4" textLength="72.0" lengthAdjust="spacingAndGlyphs">cm</text>
<text x="-217.9" y="50.7" font-size="32.2" textLength="37.3" lengthAdjust="spacingAndGlyphs">−1</text>
<text x="-179.1" y="70.6" font-size="55.4" textLength="16.0" lengthAdjust="spacingAndGlyphs">)</text>
</g>
<path d="M1548.9,186.8 H1596.8" stroke="#487ea6" stroke-width="6.0" fill="none"/>
<path d="M1548.9,293.3 H1596.8" stroke="#ad5b5b" stroke-width="6.0" fill="none"/>
<path d="M1548.9,399.6 H1596.8" stroke="#95b574" stroke-width="6.0" fill="none"/>
<g font-family="'Liberation Sans', Arial, sans-serif" fill="#111">
<text x="1618.2" y="204.2" font-size="62" textLength="117.5" lengthAdjust="spacingAndGlyphs">ACN</text>
<text x="1618.7" y="315.2" font-size="62" textLength="91.9" lengthAdjust="spacingAndGlyphs">HCl</text>
<text x="1618.3" y="419.3" font-size="62" textLength="85.5" lengthAdjust="spacingAndGlyphs">NH</text>
<text x="1703.8" y="441.4" font-size="35.8" textLength="18.2" lengthAdjust="spacingAndGlyphs">3</text>
</g>
</svg>
</body></html>
